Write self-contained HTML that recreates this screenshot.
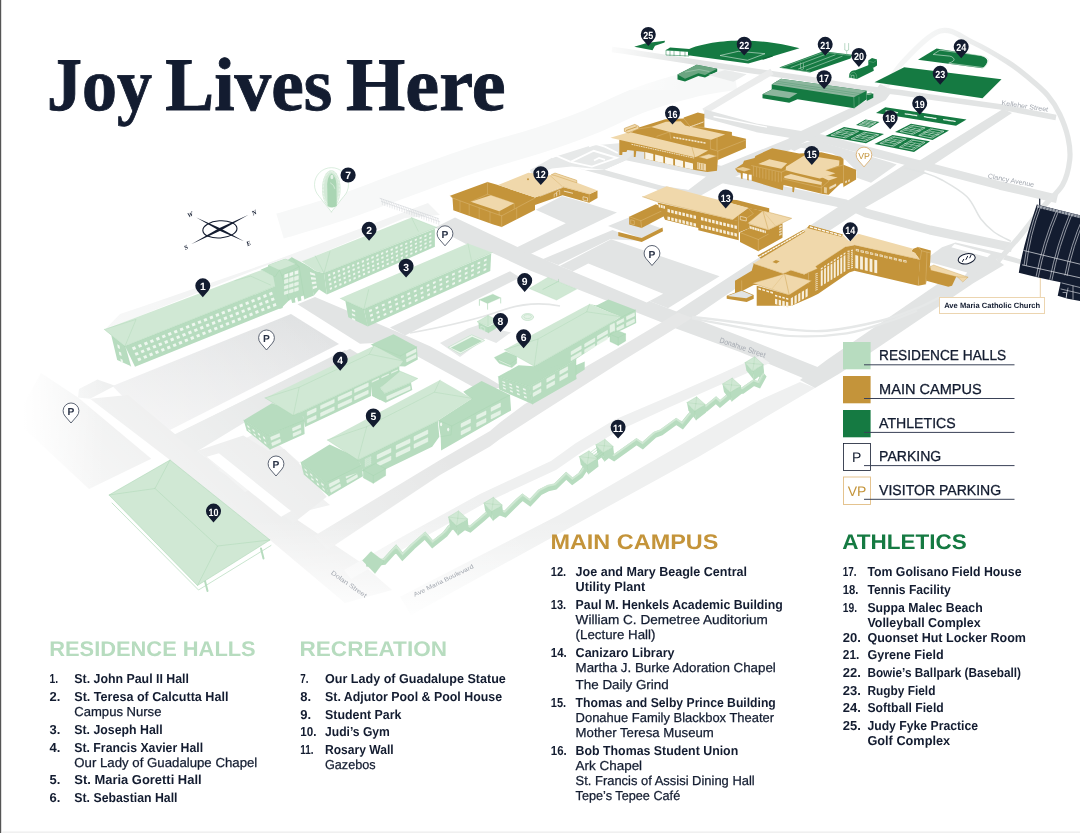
<!DOCTYPE html>
<html><head><meta charset="utf-8"><title>Campus Map</title>
<style>html,body{margin:0;padding:0;background:#fff;overflow:hidden}svg{display:block;will-change:transform}text{white-space:pre;text-rendering:geometricPrecision}</style>
</head><body>
<svg width="1080" height="833" viewBox="0 0 1080 833">
<rect width="1080" height="833" fill="#ffffff"/>
<defs>
<linearGradient id="fadeL" x1="0" y1="0" x2="1" y2="0"><stop offset="0" stop-color="#fff" stop-opacity="1"/><stop offset="1" stop-color="#fff" stop-opacity="0"/></linearGradient>
<linearGradient id="fadeB" x1="0" y1="1" x2="0" y2="0"><stop offset="0" stop-color="#fff" stop-opacity="1"/><stop offset="1" stop-color="#fff" stop-opacity="0"/></linearGradient>
<linearGradient id="fadeD" x1="0" y1="1" x2="1" y2="0"><stop offset="0" stop-color="#fff" stop-opacity="1"/><stop offset="1" stop-color="#fff" stop-opacity="0"/></linearGradient>
<linearGradient id="lotg" x1="0" y1="0" x2="0" y2="1"><stop offset="0" stop-color="#dfe1e2"/><stop offset="1" stop-color="#ececed"/></linearGradient>
</defs>
<g id="roads">
<path d="M280.0,226.0 C290.0,223.0 320.0,214.7 340.0,208.0 C360.0,201.3 378.3,193.8 400.0,186.0 C421.7,178.2 446.7,168.7 470.0,161.0 C493.3,153.3 520.0,146.5 540.0,140.0 C560.0,133.5 573.3,128.7 590.0,122.0 C606.7,115.3 623.3,106.2 640.0,100.0 C656.7,93.8 674.2,88.8 690.0,85.0 C705.8,81.2 727.5,78.3 735.0,77.0" fill="none" stroke="#f7f8f8" stroke-width="26" stroke-linejoin="round"/>
<polygon points="120.0,314.0 141.7,306.7 268.0,263.0 361.7,228.0 428.0,203.0 440.0,215.0 405.0,218.0 301.0,262.0 270.0,264.0 104.5,330.0" fill="#f3f4f4"/>
<polygon points="41.0,373.0 78.0,397.5 151.3,458.8 89.0,489.0 15.0,420.0" fill="#e4e5e5"/>
<polygon points="79.0,389.0 97.5,379.5 115.0,385.7 90.0,398.8 78.0,397.5" fill="#e2e4e4"/>
<polygon points="112.5,386.0 291.0,314.0 339.0,344.0 170.0,430.0 128.0,402.0" fill="url(#lotg)"/>
<polygon points="90.0,398.8 128.0,395.0 170.0,430.0 185.0,442.0 207.0,458.0 290.0,515.0 360.0,562.0 392.0,590.0 345.0,603.0 270.0,540.0 170.0,460.0" fill="#e4e5e5"/>
<polygon points="174.0,435.0 345.0,350.0 352.0,357.0 196.0,452.0" fill="#e2e4e4"/>
<polygon points="207.0,458.0 262.0,430.0 300.0,463.0 245.0,492.0" fill="#ebecec"/>
<polygon points="218.0,470.0 262.0,448.0 330.0,505.0 290.0,515.0" fill="#ebecec"/>
<polygon points="196.7,451.1 243.3,435.6 268.9,451.1 284.4,448.9 300.0,464.4 326.7,496.7 293.3,523.3 207.0,458.0" fill="#e6e7e7"/>
<polygon points="206.7,456.7 218.9,453.3 291.1,511.1 281.1,516.7" fill="#ffffff"/>
<polygon points="297.5,304.2 315.0,297.0 400.0,333.0 430.0,346.2 487.5,377.5 505.0,388.0 475.0,388.0 415.0,355.0 385.0,342.5 360.0,343.8" fill="#e2e4e4"/>
<polygon points="174.0,434.8 350.0,348.8 360.0,355.0 185.0,442.0" fill="#e2e4e4"/>
<polygon points="390.0,327.5 510.0,271.2 520.0,277.5 405.0,335.5" fill="#e2e4e4"/>
<polygon points="455.0,217.5 530.0,253.0 559.6,265.9 668.0,308.3 740.0,336.0 810.0,364.0 830.0,372.0 810.0,381.0 740.0,352.0 673.9,327.8 658.3,321.0 586.4,292.8 530.0,270.4 492.5,253.0 466.0,244.0 435.0,227.5" fill="#e2e4e4"/>
<polygon points="559.6,265.9 611.0,239.3 719.6,276.2 668.0,308.3" fill="#e2e4e4"/>
<polygon points="572.8,271.4 588.3,263.6 663.2,293.7 646.7,302.5" fill="#ffffff"/>
<polygon points="535.8,209.7 562.0,196.0 586.7,203.0 617.0,212.5 530.0,254.2 515.0,248.3 565.8,223.3" fill="#e2e4e4"/>
<polygon points="542.5,259.2 612.5,230.0 640.8,240.8 610.0,239.2 558.3,265.0 551.7,262.5" fill="#e2e4e4"/>
<polygon points="440.0,343.0 467.9,328.5 478.4,325.1 511.0,332.4 496.2,343.0 485.1,338.6 460.0,357.0" fill="#e6e8e8"/>
<path d="M410,333 Q470,322 500,311 T560,306" fill="none" stroke="#e4e6e6" stroke-width="1.6" stroke-linejoin="round"/>
<polygon points="313.8,536.2 440.0,460.0 490.0,431.0 500.0,422.5 524.5,404.3 540.7,394.7 581.5,369.3 622.2,345.8 663.0,321.4 700.0,299.0 700.0,313.0 663.0,336.0 622.2,361.0 581.5,387.0 540.7,413.0 500.0,439.0 490.0,446.5 440.0,475.0 327.5,550.0" fill="#e6e7e7"/>
<polygon points="760.0,356.0 720.0,373.9 670.0,396.0 614.4,419.7 575.6,443.3 551.0,461.0 480.0,494.0 400.0,538.0 344.0,570.0 351.0,579.0 405.0,548.0 485.0,503.0 556.0,470.0 582.0,452.0 620.0,430.0 670.0,407.0 720.0,385.0 770.0,363.0" fill="#eff0f0"/>
<polygon points="400.0,596.7 559.0,515.0 700.0,433.7 760.0,400.0 800.0,382.0 815.0,388.0 700.0,456.0 411.0,615.0" fill="#eff0f0"/>
<polyline points="612.0,49.5 625.0,51.3 750.0,70.5 805.0,78.5 857.0,87.5 900.0,92.5 930.0,97.0 1000.0,106.8 1056.0,117.5" fill="none" stroke="#e2e4e4" stroke-width="5.6" stroke-linejoin="round"/>
<polyline points="772.0,71.5 740.0,90.0 704.0,111.5" fill="none" stroke="#ebecec" stroke-width="6.5" stroke-linejoin="round"/>
<polyline points="704.0,113.5 757.0,128.0 823.0,139.0 912.0,162.5 1000.0,185.5 1057.0,198.8" fill="none" stroke="#e2e4e4" stroke-width="8.5" stroke-linejoin="round"/>
<polyline points="713.5,116.5 767,127.2" fill="none" stroke="#fff" stroke-width="1.3"/>
<polyline points="722.0,178.5 779.0,190.0 845.6,204.0 866.0,213.0 930.0,230.0 1000.0,244.8 1012.0,247.5" fill="none" stroke="#e2e4e4" stroke-width="9" stroke-linejoin="round"/>
<polygon points="598.0,166.0 615.0,156.0 640.0,146.0 730.0,168.0 726.7,184.0 712.5,178.0 625.8,160.3 604.2,169.7" fill="#e2e4e4"/>
<polygon points="585.2,170.0 604.2,169.7 661.7,185.8 688.3,190.0 690.0,193.0 660.0,191.5 656.5,189.6 571.5,166.5" fill="#e2e4e4"/>
<polygon points="608.0,226.0 642.0,238.5 663.0,229.0 630.0,217.0" fill="#e2e4e4"/>
<polygon points="880.0,84.0 867.8,100.0 796.7,133.0 787.8,139.0 719.0,166.7 688.3,190.0 665.0,187.5 657.0,190.5 700.0,196.0 726.7,181.0 794.4,147.8 814.4,136.7 885.6,100.0 893.0,90.0" fill="#e2e4e4"/>
<polygon points="1003.0,109.0 914.0,164.0 912.0,160.0 845.6,202.0 814.0,223.0 752.5,261.8 690.0,302.6 676.0,311.8 692.5,318.0 760.0,272.0 832.0,229.0 861.0,210.0 925.6,173.0 924.0,171.0 1012.0,113.0" fill="#e2e4e4"/>
<polygon points="787.8,147.8 814.4,140.0 890.0,162.2 896.7,164.4 871.0,182.7 856.7,177.8 856.7,171.0 845.6,160.0 832.0,153.3 801.0,147.8 794.4,151.0" fill="#e2e4e4"/>
<defs><linearGradient id="ringg" gradientUnits="userSpaceOnUse" x1="930" y1="40" x2="1010" y2="70"><stop offset="0" stop-color="#f4f5f5"/><stop offset="1" stop-color="#e3e5e5"/></linearGradient></defs>
<path d="M886.0,87.0 C888.8,82.8 894.0,71.3 903.0,62.0 C912.0,52.7 928.5,34.3 940.0,31.0 C951.5,27.7 960.7,36.8 972.0,42.0 C983.3,47.2 998.3,56.1 1007.6,62.0 C1016.9,67.8 1021.0,71.5 1027.7,77.1 C1034.4,82.7 1042.6,89.4 1047.9,95.6 C1053.2,101.8 1056.4,107.1 1059.7,114.1 C1063.0,121.1 1066.3,129.9 1068.0,137.6 C1069.7,145.2 1070.6,152.1 1069.7,160.0 C1068.8,167.9 1067.0,177.1 1062.5,185.0 C1058.0,192.9 1049.6,199.0 1042.5,207.5 C1035.4,216.0 1027.4,227.1 1020.0,236.0 C1012.6,244.9 1001.7,256.8 998.0,261.0" fill="none" stroke="url(#ringg)" stroke-width="5.2" stroke-linejoin="round"/>
<polygon points="993.0,257.0 1004.0,265.0 973.3,283.3 840.0,373.3 815.0,388.0 800.0,380.0 826.7,360.0 953.3,273.3" fill="#e2e4e4"/>
<polygon points="926.0,259.0 942.0,247.2 955.5,242.5 1003.0,253.5 992.0,263.0 966.0,279.0 925.0,268.0" fill="#e2e4e4"/>
<polygon points="954.6,243.9 990.8,254.0 987.4,257.3 951.3,247.2" fill="#ffffff"/>
<polygon points="931.0,262.4 967.2,272.4 964.7,275.8 928.6,264.9" fill="#ffffff"/>
<polygon points="1006.0,255.0 1021.0,259.5 1020.0,264.0 1003.0,259.5" fill="#e2e4e4"/>
<path d="M692.0,317.0 C700.0,317.9 723.7,320.6 740.0,322.7 C756.3,324.8 775.5,328.2 790.0,329.5 C804.5,330.8 811.7,332.1 826.7,330.7 C841.7,329.3 865.0,324.7 880.0,321.0 C895.0,317.3 907.0,312.3 917.0,308.3 C927.0,304.3 936.2,298.9 940.0,297.0" fill="none" stroke="#e6e8e8" stroke-width="2.4" stroke-linejoin="round"/>
<path d="M692.0,318.5 C700.0,320.0 723.7,324.4 740.0,327.3 C756.3,330.2 772.2,335.0 790.0,336.0 C807.8,337.0 830.0,335.8 846.7,333.3 C863.4,330.8 878.3,324.8 890.0,321.0 C901.7,317.2 912.5,312.4 917.0,310.7" fill="none" stroke="#e6e8e8" stroke-width="2.2" stroke-linejoin="round"/>
<path d="M905.0,168.0 C908.3,168.8 918.8,171.0 925.0,173.0 C931.2,175.0 935.0,176.0 942.0,180.0 C949.0,184.0 960.5,190.4 967.0,196.8 C973.5,203.2 976.2,212.8 980.7,218.7 C985.2,224.6 989.0,228.2 994.0,232.0 C999.0,235.8 1008.2,239.8 1011.0,241.3" fill="none" stroke="#e0e3e3" stroke-width="1.5" stroke-linejoin="round"/>
<polygon points="530.0,170.0 552.0,157.8 590.0,145.7 622.0,143.0 640.0,148.0 625.8,160.3 604.2,169.7 571.5,166.5 552.0,168.5 532.0,176.0" fill="#e7e9e9"/>
<polyline points="552.0,157.3 556.2,155.7 570.6,161.8" fill="none" stroke="#fff" stroke-width="1.8" stroke-linejoin="miter"/>
<polyline points="570.6,161.9 593.7,150.8 616.9,157.8 591.9,166.6 570.6,161.9" fill="none" stroke="#fff" stroke-width="1.8" stroke-linejoin="miter"/>
<polyline points="589.0,146.5 595.6,144.0 604.8,146.7 617.8,153.0" fill="none" stroke="#fff" stroke-width="1.8" stroke-linejoin="miter"/>
<polyline points="594.0,160.5 599.0,158.0 605.0,159.8" fill="none" stroke="#fff" stroke-width="1.8" stroke-linejoin="miter"/>
<defs>
<linearGradient id="fadeDiag" gradientUnits="userSpaceOnUse" x1="330" y1="335" x2="30" y2="635"><stop offset="0" stop-color="#fff" stop-opacity="0"/><stop offset="1" stop-color="#fff" stop-opacity="1"/></linearGradient>
<linearGradient id="fadeBot" gradientUnits="userSpaceOnUse" x1="0" y1="520" x2="0" y2="625"><stop offset="0" stop-color="#fff" stop-opacity="0"/><stop offset="1" stop-color="#fff" stop-opacity="1"/></linearGradient>
<linearGradient id="fadeTL" gradientUnits="userSpaceOnUse" x1="690" y1="60" x2="600" y2="40"><stop offset="0" stop-color="#fff" stop-opacity="0"/><stop offset="1" stop-color="#fff" stop-opacity="1"/></linearGradient>
</defs>
<rect x="0" y="300" width="620" height="340" fill="url(#fadeDiag)"/>
<defs><linearGradient id="fadeLeft" gradientUnits="userSpaceOnUse" x1="22" y1="0" x2="105" y2="0"><stop offset="0" stop-color="#fff" stop-opacity="1"/><stop offset="1" stop-color="#fff" stop-opacity="0"/></linearGradient></defs>
<rect x="0" y="340" width="110" height="200" fill="url(#fadeLeft)"/>
<rect x="0" y="500" width="820" height="140" fill="url(#fadeBot)"/>
<rect x="560" y="30" width="140" height="60" fill="url(#fadeTL)"/>
</g>
<text x="1001.3" y="104.8" font-family="Liberation Sans, sans-serif" font-size="6.8" fill="#a3a8b0" textLength="47" lengthAdjust="spacingAndGlyphs" transform="rotate(8.5 1001.3 104.8)">Kelleher Street</text>
<text x="987.5" y="178" font-family="Liberation Sans, sans-serif" font-size="6.8" fill="#a3a8b0" textLength="47" lengthAdjust="spacingAndGlyphs" transform="rotate(11 987.5 178)">Clancy Avenue</text>
<text x="719" y="342.3" font-family="Liberation Sans, sans-serif" font-size="7.6" fill="#a3a8b0" textLength="48" lengthAdjust="spacingAndGlyphs" transform="rotate(18.8 719 342.3)">Donahue Street</text>
<text x="330.5" y="573.8" font-family="Liberation Sans, sans-serif" font-size="6.4" fill="#a3a8b0" textLength="42" lengthAdjust="spacingAndGlyphs" transform="rotate(35 330.5 573.8)">Dolan Street</text>
<text x="414.8" y="596.8" font-family="Liberation Sans, sans-serif" font-size="6.2" fill="#a3a8b0" textLength="66" lengthAdjust="spacingAndGlyphs" transform="rotate(-26 414.8 596.8)">Ave Maria Boulevard</text>
<path d="M1036.8,204.4 L1081,215.5 L1081,301 L1080,300.9 L1067.8,298.7 L1057.7,295.8 L1060.6,282.2 L1049.8,280 L1036,277 L1018.8,272.8 Q1022.5,247 1036.8,204.4 Z" fill="#131c30"/>
<path d="M1039.7,199 V205" fill="none" stroke="#131c30" stroke-width="1.2" stroke-linejoin="round" stroke-linecap="round"/>
<path d="M1038.5,205.6 Q1027.8,234.25 1024.1,264.9" fill="none" stroke="#e8eaee" stroke-width="0.6" stroke-linejoin="round" stroke-linecap="round"/>
<path d="M1040.7,206.2 Q1030.0,234.85 1026.3,265.5" fill="none" stroke="#e8eaee" stroke-width="0.6" stroke-linejoin="round" stroke-linecap="round"/>
<path d="M1056.2,210.9 Q1042.65,242.64999999999998 1036.1,276.4" fill="none" stroke="#e8eaee" stroke-width="0.6" stroke-linejoin="round" stroke-linecap="round"/>
<path d="M1058.4,211.5 Q1044.8500000000001,243.24999999999997 1038.3,277.0" fill="none" stroke="#e8eaee" stroke-width="0.6" stroke-linejoin="round" stroke-linecap="round"/>
<path d="M1069.9,213.5 Q1056.35,245.4 1049.8,279.3" fill="none" stroke="#e8eaee" stroke-width="0.6" stroke-linejoin="round" stroke-linecap="round"/>
<path d="M1072.1000000000001,214.1 Q1058.55,246.0 1052.0,279.90000000000003" fill="none" stroke="#e8eaee" stroke-width="0.6" stroke-linejoin="round" stroke-linecap="round"/>
<path d="M1083,217.4 Q1070.45,245.2 1064.9,275" fill="none" stroke="#e8eaee" stroke-width="0.6" stroke-linejoin="round" stroke-linecap="round"/>
<path d="M1085.2,218.0 Q1072.65,245.79999999999998 1067.1000000000001,275.6" fill="none" stroke="#e8eaee" stroke-width="0.6" stroke-linejoin="round" stroke-linecap="round"/>
<path d="M1023.8,250.5 L1081,264.4" fill="none" stroke="#e8eaee" stroke-width="0.7" stroke-linejoin="round" stroke-linecap="round"/>
<path d="M1022.4,264.9 L1081,278" fill="none" stroke="#e8eaee" stroke-width="0.7" stroke-linejoin="round" stroke-linecap="round"/>
<polygon points="1037.6,205.0 1081.0,215.8 1081.0,218.6 1036.8,207.6" fill="#b9bdc6" opacity="0.85"/>
<path d="M1040.0,205.8 l-0.6,2.4" fill="none" stroke="#131c30" stroke-width="0.5" stroke-linejoin="round" stroke-linecap="round"/>
<path d="M1043.1,206.6 l-0.6,2.4" fill="none" stroke="#131c30" stroke-width="0.5" stroke-linejoin="round" stroke-linecap="round"/>
<path d="M1046.2,207.3 l-0.6,2.4" fill="none" stroke="#131c30" stroke-width="0.5" stroke-linejoin="round" stroke-linecap="round"/>
<path d="M1049.3,208.1 l-0.6,2.4" fill="none" stroke="#131c30" stroke-width="0.5" stroke-linejoin="round" stroke-linecap="round"/>
<path d="M1052.4,208.9 l-0.6,2.4" fill="none" stroke="#131c30" stroke-width="0.5" stroke-linejoin="round" stroke-linecap="round"/>
<path d="M1055.5,209.7 l-0.6,2.4" fill="none" stroke="#131c30" stroke-width="0.5" stroke-linejoin="round" stroke-linecap="round"/>
<path d="M1058.6,210.4 l-0.6,2.4" fill="none" stroke="#131c30" stroke-width="0.5" stroke-linejoin="round" stroke-linecap="round"/>
<path d="M1061.7,211.2 l-0.6,2.4" fill="none" stroke="#131c30" stroke-width="0.5" stroke-linejoin="round" stroke-linecap="round"/>
<path d="M1064.8,212.0 l-0.6,2.4" fill="none" stroke="#131c30" stroke-width="0.5" stroke-linejoin="round" stroke-linecap="round"/>
<path d="M1067.9,212.7 l-0.6,2.4" fill="none" stroke="#131c30" stroke-width="0.5" stroke-linejoin="round" stroke-linecap="round"/>
<path d="M1071.0,213.5 l-0.6,2.4" fill="none" stroke="#131c30" stroke-width="0.5" stroke-linejoin="round" stroke-linecap="round"/>
<path d="M1074.1,214.3 l-0.6,2.4" fill="none" stroke="#131c30" stroke-width="0.5" stroke-linejoin="round" stroke-linecap="round"/>
<path d="M1077.2,215.0 l-0.6,2.4" fill="none" stroke="#131c30" stroke-width="0.5" stroke-linejoin="round" stroke-linecap="round"/>
<path d="M1080.3,215.8 l-0.6,2.4" fill="none" stroke="#131c30" stroke-width="0.5" stroke-linejoin="round" stroke-linecap="round"/>
<path d="M1062,283 L1080,287.5 M1061,289 L1080,293.5 M1068,288 L1066,298 M1073,286 V299" fill="none" stroke="#e8eaee" stroke-width="0.6" stroke-linejoin="round" stroke-linecap="round"/>
<path d="M1063,292.5 h3.5 v4.5" fill="none" stroke="#e8eaee" stroke-width="0.6" stroke-linejoin="round" stroke-linecap="round"/>
<polygon points="634.2,46.7 646.7,43.0 665.0,40.8 664.5,42.6 655.0,45.8 652.5,50.2" fill="#157a42"/>
<polygon points="666.0,50.0 689.0,51.5 689.0,56.0 666.0,55.0" fill="#fff" stroke="#157a42" stroke-width="0.5" stroke-linejoin="round"/>
<polygon points="665.8,50.3 670.0,47.6 689.5,49.0 689.5,51.8" fill="#157a42"/>
<path d="M670,51 V55.3 M674,51.2 V55.5 M680,51.5 V55.7 M685,51.8 V56" fill="none" stroke="#157a42" stroke-width="0.5" stroke-linejoin="round" stroke-linecap="round"/>
<path d="M688,55.3 L688,49.4 C700,43.6 725,40.2 745.2,40.5 C765,40.9 785,44 799.5,48.3 L748.3,63.6 Z" fill="#157a42"/>
<polygon points="720.0,55.5 738.3,51.3 765.0,53.7 747.5,60.3" fill="none" stroke="#d9eadf" stroke-width="0.6" stroke-linejoin="round"/>
<polygon points="761.5,58.5 771.5,55.3 773.0,56.5 763.0,59.8" fill="#0f6a38"/>
<polygon points="677.5,74.5 696.7,64.7 717.2,68.8 717.2,71.5 705.0,77.6 698.3,76.0 685.0,81.5 677.5,79.5" fill="#157a42"/>
<polygon points="677.5,74.5 696.7,64.7 717.2,68.8 705.0,75.0 698.3,73.3 685.0,78.7" fill="#6ba581"/>
<polyline points="685.5,72.0 699.0,69.5 709.0,71.5" fill="none" stroke="#cfe3d6" stroke-width="0.4" stroke-linecap="round" stroke-linejoin="round"/>
<polygon points="708.3,75.0 725.0,70.0 746.7,74.2 733.3,81.7" fill="#e9ebeb"/>
<polygon points="779.2,67.5 823.3,51.3 852.0,54.7 850.5,58.5 810.0,72.5" fill="#157a42"/>
<polyline points="790.9,67.5 828.2,53.4" fill="none" stroke="#d9eadf" stroke-width="0.5" stroke-linecap="round" stroke-linejoin="round"/>
<polyline points="798.6,68.8 835.1,54.9" fill="none" stroke="#d9eadf" stroke-width="0.5" stroke-linecap="round" stroke-linejoin="round"/>
<polyline points="806.3,70.0 842.1,56.3" fill="none" stroke="#d9eadf" stroke-width="0.5" stroke-linecap="round" stroke-linejoin="round"/>
<polyline points="781.5,67.6 824.0,52.2 850.5,55.5" fill="none" stroke="#9cc9ad" stroke-width="0.5" stroke-linecap="round" stroke-linejoin="round"/>
<polyline points="782.0,68.3 810.0,72.0" fill="none" stroke="#9cc9ad" stroke-width="0.5" stroke-linecap="round" stroke-linejoin="round"/>
<path d="M844.8,43.5 V50 Q846.7,51.5 848.6,50 V43.5 M846.7,51 V54" fill="none" stroke="#9cc9ad" stroke-width="0.7" stroke-linejoin="round" stroke-linecap="round"/>
<path d="M800.5,63 V69 Q802,70 803.5,69 V63.5" fill="none" stroke="#9cc9ad" stroke-width="0.6" stroke-linejoin="round" stroke-linecap="round"/>
<path d="M848.8,77.6 L849.5,73.5 Q851.5,70 855.5,70.3 L869.5,64.8 Q873.5,66 873.8,70.8 L857,78.9 Z" fill="#157a42"/>
<path d="M849.5,77.7 Q850,72.5 853.5,72.3 Q857,72.8 856.8,78.8" fill="none" stroke="#7fb896" stroke-width="0.5" stroke-linejoin="round" stroke-linecap="round"/>
<path d="M851.3,77.9 v-2.6 h2.7 v3" fill="none" stroke="#d9eadf" stroke-width="0.5" stroke-linejoin="round" stroke-linecap="round"/>
<polygon points="868.3,60.5 872.0,58.0 877.0,59.5 877.0,65.5 873.5,67.8 868.3,66.0" fill="#157a42"/>
<polyline points="869.5,61.5 873.5,62.5 876.5,60.5" fill="none" stroke="#7fb896" stroke-width="0.4" stroke-linecap="round" stroke-linejoin="round"/>
<polygon points="771.7,84.5 781.0,78.7 866.7,90.8 866.7,99.2 854.2,108.3 797.5,99.2 789.2,102.8 762.5,98.3 762.5,94.2 771.7,89.6" fill="#157a42"/>
<polygon points="771.7,84.5 781.0,78.7 866.7,90.8 853.8,97.3" fill="#8cb69d"/>
<polyline points="774.5,82.8 857.7,95.3" fill="none" stroke="#157a42" stroke-width="0.5" stroke-linecap="round" stroke-linejoin="round" opacity="0.45"/>
<polyline points="776.8,81.3 860.9,93.7" fill="none" stroke="#157a42" stroke-width="0.5" stroke-linecap="round" stroke-linejoin="round" opacity="0.45"/>
<polygon points="762.5,94.2 772.5,89.2 797.5,93.3 789.2,98.3" fill="#8cb69d"/>
<polyline points="853.8,97.3 854.2,108.3" fill="none" stroke="#7fb896" stroke-width="0.5" stroke-linecap="round" stroke-linejoin="round"/>
<polyline points="859.0,97.0 859.0,104.8" fill="none" stroke="#7fb896" stroke-width="0.4" stroke-linecap="round" stroke-linejoin="round"/>
<polygon points="866.7,95.0 873.3,93.7 873.3,97.7 866.7,101.0" fill="#157a42"/>
<polygon points="866.7,95.0 873.3,93.7 871.0,92.6 866.7,93.4" fill="#6ba581"/>
<polygon points="874.5,82.2 904.2,67.3 1001.5,79.3 982.5,98.3" fill="#157a42"/>
<path d="M918,59.7 L936.5,48.6 L981,55.8 Q993,59.5 982.5,68.3 Z" fill="#157a42"/>
<path d="M940.3,50.2 L980.7,55.5 Q990,57.7 988.2,61.2 Q987,66 984,67.7 L948.7,63.2 Q955.5,61 953.8,58.5 Q952,56.2 949.6,56.1 L933.6,54.5 Z" fill="none" stroke="#d9eadf" stroke-width="0.6" stroke-linejoin="round" stroke-linecap="round"/>
<polygon points="876.0,113.0 885.3,107.3 966.5,119.5 956.0,125.7" fill="#157a42"/>
<polyline points="886.0,110.9 897.5,112.7" fill="none" stroke="#e4f0e8" stroke-width="1.3" stroke-linecap="round" stroke-linejoin="round" stroke-dasharray="1.5,0.7"/>
<polyline points="905.2,113.8 916.7,115.6" fill="none" stroke="#e4f0e8" stroke-width="1.3" stroke-linecap="round" stroke-linejoin="round" stroke-dasharray="1.5,0.7"/>
<polyline points="924.4,116.7 935.9,118.5" fill="none" stroke="#e4f0e8" stroke-width="1.3" stroke-linecap="round" stroke-linejoin="round" stroke-dasharray="1.5,0.7"/>
<polyline points="943.6,119.6 955.1,121.4" fill="none" stroke="#e4f0e8" stroke-width="1.3" stroke-linecap="round" stroke-linejoin="round" stroke-dasharray="1.5,0.7"/>
<polygon points="856.0,125.0 865.5,119.5 879.5,122.0 870.0,127.7" fill="#157a42"/>
<polygon points="859.3,124.6 866.1,120.6 876.2,122.4 869.4,126.5" fill="none" stroke="#e4f0e8" stroke-width="0.6" stroke-linejoin="round"/>
<polyline points="860.7,124.9 867.5,120.9" fill="none" stroke="#e4f0e8" stroke-width="0.45" stroke-linecap="round" stroke-linejoin="round"/>
<polyline points="868.0,126.3 874.8,122.2" fill="none" stroke="#e4f0e8" stroke-width="0.45" stroke-linecap="round" stroke-linejoin="round"/>
<polyline points="862.5,123.8 869.8,125.2" fill="none" stroke="#e4f0e8" stroke-width="0.45" stroke-linecap="round" stroke-linejoin="round"/>
<polyline points="865.7,122.0 873.0,123.3" fill="none" stroke="#e4f0e8" stroke-width="0.45" stroke-linecap="round" stroke-linejoin="round"/>
<polyline points="866.2,124.5 869.3,122.6" fill="none" stroke="#e4f0e8" stroke-width="0.45" stroke-linecap="round" stroke-linejoin="round"/>
<polyline points="862.4,122.6 873.1,124.5" fill="none" stroke="#e4f0e8" stroke-width="0.5" stroke-linecap="round" stroke-linejoin="round"/>
<polygon points="825.5,136.0 844.0,127.0 884.0,134.0 866.0,143.2" fill="#157a42"/>
<polygon points="830.9,135.2 844.2,128.8 858.6,131.3 845.5,137.8" fill="none" stroke="#e4f0e8" stroke-width="0.6" stroke-linejoin="round"/>
<polyline points="833.0,135.6 846.2,129.1" fill="none" stroke="#e4f0e8" stroke-width="0.45" stroke-linecap="round" stroke-linejoin="round"/>
<polyline points="843.4,137.5 856.6,130.9" fill="none" stroke="#e4f0e8" stroke-width="0.45" stroke-linecap="round" stroke-linejoin="round"/>
<polyline points="836.5,133.8 847.0,135.7" fill="none" stroke="#e4f0e8" stroke-width="0.45" stroke-linecap="round" stroke-linejoin="round"/>
<polyline points="842.6,130.9 853.1,132.7" fill="none" stroke="#e4f0e8" stroke-width="0.45" stroke-linecap="round" stroke-linejoin="round"/>
<polyline points="841.8,134.8 847.9,131.8" fill="none" stroke="#e4f0e8" stroke-width="0.45" stroke-linecap="round" stroke-linejoin="round"/>
<polyline points="836.8,131.9 852.9,134.7" fill="none" stroke="#e4f0e8" stroke-width="0.5" stroke-linecap="round" stroke-linejoin="round"/>
<polygon points="851.1,138.8 864.2,132.3 878.7,134.8 865.7,141.4" fill="none" stroke="#e4f0e8" stroke-width="0.6" stroke-linejoin="round"/>
<polyline points="853.2,139.2 866.3,132.6" fill="none" stroke="#e4f0e8" stroke-width="0.45" stroke-linecap="round" stroke-linejoin="round"/>
<polyline points="863.7,141.0 876.7,134.4" fill="none" stroke="#e4f0e8" stroke-width="0.45" stroke-linecap="round" stroke-linejoin="round"/>
<polyline points="856.7,137.4 867.2,139.3" fill="none" stroke="#e4f0e8" stroke-width="0.45" stroke-linecap="round" stroke-linejoin="round"/>
<polyline points="862.7,134.4 873.1,136.2" fill="none" stroke="#e4f0e8" stroke-width="0.45" stroke-linecap="round" stroke-linejoin="round"/>
<polyline points="861.9,138.3 867.9,135.3" fill="none" stroke="#e4f0e8" stroke-width="0.45" stroke-linecap="round" stroke-linejoin="round"/>
<polyline points="856.9,135.4 873.0,138.2" fill="none" stroke="#e4f0e8" stroke-width="0.5" stroke-linecap="round" stroke-linejoin="round"/>
<polygon points="895.0,132.0 911.0,123.8 949.0,130.5 932.5,140.0" fill="#157a42"/>
<polygon points="899.9,131.4 911.4,125.4 925.1,127.9 913.4,134.2" fill="none" stroke="#e4f0e8" stroke-width="0.6" stroke-linejoin="round"/>
<polyline points="901.8,131.8 913.3,125.8" fill="none" stroke="#e4f0e8" stroke-width="0.45" stroke-linecap="round" stroke-linejoin="round"/>
<polyline points="911.5,133.8 923.2,127.6" fill="none" stroke="#e4f0e8" stroke-width="0.45" stroke-linecap="round" stroke-linejoin="round"/>
<polyline points="904.9,130.2 914.6,132.1" fill="none" stroke="#e4f0e8" stroke-width="0.45" stroke-linecap="round" stroke-linejoin="round"/>
<polyline points="910.2,127.4 920.0,129.3" fill="none" stroke="#e4f0e8" stroke-width="0.45" stroke-linecap="round" stroke-linejoin="round"/>
<polyline points="909.8,131.1 915.1,128.3" fill="none" stroke="#e4f0e8" stroke-width="0.45" stroke-linecap="round" stroke-linejoin="round"/>
<polyline points="904.9,128.3 920.0,131.2" fill="none" stroke="#e4f0e8" stroke-width="0.5" stroke-linecap="round" stroke-linejoin="round"/>
<polygon points="918.7,135.3 930.4,128.9 944.0,131.3 932.2,138.1" fill="none" stroke="#e4f0e8" stroke-width="0.6" stroke-linejoin="round"/>
<polyline points="920.5,135.7 932.3,129.2" fill="none" stroke="#e4f0e8" stroke-width="0.45" stroke-linecap="round" stroke-linejoin="round"/>
<polyline points="930.3,137.7 942.1,131.0" fill="none" stroke="#e4f0e8" stroke-width="0.45" stroke-linecap="round" stroke-linejoin="round"/>
<polyline points="923.7,134.0 933.5,135.9" fill="none" stroke="#e4f0e8" stroke-width="0.45" stroke-linecap="round" stroke-linejoin="round"/>
<polyline points="929.1,131.0 938.9,132.8" fill="none" stroke="#e4f0e8" stroke-width="0.45" stroke-linecap="round" stroke-linejoin="round"/>
<polyline points="928.6,134.9 934.0,131.9" fill="none" stroke="#e4f0e8" stroke-width="0.45" stroke-linecap="round" stroke-linejoin="round"/>
<polyline points="923.8,131.9 938.9,134.9" fill="none" stroke="#e4f0e8" stroke-width="0.5" stroke-linecap="round" stroke-linejoin="round"/>
<polygon points="874.5,144.0 892.5,135.0 930.0,141.2 914.0,152.0" fill="#157a42"/>
<polygon points="879.8,143.3 892.6,136.7 906.2,139.0 893.9,146.1" fill="none" stroke="#e4f0e8" stroke-width="0.6" stroke-linejoin="round"/>
<polyline points="881.7,143.7 894.5,137.0" fill="none" stroke="#e4f0e8" stroke-width="0.45" stroke-linecap="round" stroke-linejoin="round"/>
<polyline points="891.9,145.7 904.3,138.7" fill="none" stroke="#e4f0e8" stroke-width="0.45" stroke-linecap="round" stroke-linejoin="round"/>
<polyline points="885.2,141.9 895.3,143.8" fill="none" stroke="#e4f0e8" stroke-width="0.45" stroke-linecap="round" stroke-linejoin="round"/>
<polyline points="891.1,138.8 901.0,140.6" fill="none" stroke="#e4f0e8" stroke-width="0.45" stroke-linecap="round" stroke-linejoin="round"/>
<polyline points="890.2,142.8 896.0,139.7" fill="none" stroke="#e4f0e8" stroke-width="0.45" stroke-linecap="round" stroke-linejoin="round"/>
<polyline points="885.4,139.9 900.8,142.7" fill="none" stroke="#e4f0e8" stroke-width="0.5" stroke-linecap="round" stroke-linejoin="round"/>
<polygon points="899.4,147.2 911.5,139.9 925.1,142.3 913.5,149.9" fill="none" stroke="#e4f0e8" stroke-width="0.6" stroke-linejoin="round"/>
<polyline points="901.4,147.5 913.4,140.3" fill="none" stroke="#e4f0e8" stroke-width="0.45" stroke-linecap="round" stroke-linejoin="round"/>
<polyline points="911.5,149.6 923.2,141.9" fill="none" stroke="#e4f0e8" stroke-width="0.45" stroke-linecap="round" stroke-linejoin="round"/>
<polyline points="904.6,145.6 914.7,147.5" fill="none" stroke="#e4f0e8" stroke-width="0.45" stroke-linecap="round" stroke-linejoin="round"/>
<polyline points="910.2,142.2 920.1,144.0" fill="none" stroke="#e4f0e8" stroke-width="0.45" stroke-linecap="round" stroke-linejoin="round"/>
<polyline points="909.6,146.5 915.1,143.1" fill="none" stroke="#e4f0e8" stroke-width="0.45" stroke-linecap="round" stroke-linejoin="round"/>
<polyline points="904.7,143.4 920.1,146.2" fill="none" stroke="#e4f0e8" stroke-width="0.5" stroke-linecap="round" stroke-linejoin="round"/>
<polygon points="619.3,139.7 638.8,127.4 665.2,119.3 683.7,118.5 683.7,117.5 697.8,112.6 704.4,114.1 704.4,127.4 731.9,131.9 731.9,135.6 745.9,138.8 745.9,148.1 717.8,160.0 717.0,170.8 707.4,172.1 694.8,169.9 644.4,158.8 644.4,152.1 636.3,151.1 635.6,157.0 633.8,157.0 633.8,150.8 627.4,150.1 626.4,151.9 622.5,152.1 622.2,155.1 619.3,155.1" fill="#c4943a"/>
<polygon points="651.1,127.0 665.9,121.8 680.7,121.2 685.2,125.5 725.2,134.4 711.1,139.7 669.6,131.9" fill="#f0d8ab"/>
<polygon points="610.4,137.8 629.6,132.1 691.9,147.1 708.1,150.4 697.8,156.3 694.8,157.3" fill="#f0d8ab"/>
<polyline points="691.9,147.1 694.8,157.3" fill="none" stroke="#c4943a" stroke-width="0.4" stroke-linecap="round" stroke-linejoin="round"/>
<polygon points="624.4,128.4 634.8,124.4 638.8,126.4 638.8,128.9 628.1,132.9 624.4,131.4" fill="#f0d8ab" stroke="#c4943a" stroke-width="0.6" stroke-linejoin="round"/>
<polyline points="626.4,130.4 637.0,126.7" fill="none" stroke="#c4943a" stroke-width="0.8" stroke-linecap="round" stroke-linejoin="round" stroke-dasharray="1.2,0.7"/>
<polygon points="672.3,136.0 706.1,141.9 706.1,144.9 672.3,139.0" fill="#c4943a"/>
<polygon points="673.3,136.6 675.4,137.0 675.4,138.5 673.3,138.1" fill="#f6ead2"/>
<polygon points="676.3,137.1 678.4,137.5 678.4,139.0 676.3,138.7" fill="#f6ead2"/>
<polygon points="679.3,137.6 681.4,138.0 681.4,139.6 679.3,139.2" fill="#f6ead2"/>
<polygon points="682.4,138.2 684.4,138.5 684.4,140.1 682.4,139.7" fill="#f6ead2"/>
<polygon points="685.4,138.7 687.4,139.1 687.4,140.6 685.4,140.3" fill="#f6ead2"/>
<polygon points="688.4,139.2 690.4,139.6 690.4,141.1 688.4,140.8" fill="#f6ead2"/>
<polygon points="691.4,139.7 693.5,140.1 693.5,141.7 691.4,141.3" fill="#f6ead2"/>
<polygon points="694.4,140.3 696.5,140.6 696.5,142.2 694.4,141.8" fill="#f6ead2"/>
<polygon points="697.4,140.8 699.5,141.2 699.5,142.7 697.4,142.4" fill="#f6ead2"/>
<polygon points="700.4,141.3 702.5,141.7 702.5,143.3 700.4,142.9" fill="#f6ead2"/>
<polygon points="703.4,141.9 705.5,142.2 705.5,143.8 703.4,143.4" fill="#f6ead2"/>
<polygon points="645.2,152.1 653.3,154.1 653.3,160.8 645.2,159.0" fill="#fbf6ea"/>
<polygon points="655.1,154.5 663.3,156.4 663.3,163.0 655.1,161.2" fill="#fbf6ea"/>
<polygon points="665.0,156.8 673.2,158.7 673.2,165.2 665.0,163.4" fill="#fbf6ea"/>
<polygon points="675.0,159.1 683.1,161.1 683.1,167.4 675.0,165.6" fill="#fbf6ea"/>
<polygon points="684.9,161.5 693.0,163.4 693.0,169.6 684.9,167.8" fill="#fbf6ea"/>
<polygon points="697.0,162.2 705.9,164.0 705.9,170.8 697.0,169.0" fill="#efd9b0"/>
<path d="M698.1,163.4 v5 m2.5,-4.5 v5 m2.5,-4.5 v5" fill="none" stroke="#c4943a" stroke-width="0.7" stroke-linejoin="round" stroke-linecap="round"/>
<polyline points="631.9,144.4 694.8,158.2" fill="none" stroke="#f6ead2" stroke-width="0.9" stroke-linecap="round" stroke-linejoin="round" stroke-dasharray="0.9,1.5"/>
<polygon points="698.5,157.0 708.9,154.1 717.0,156.0 707.0,159.3" fill="#f0d8ab" stroke="#c4943a" stroke-width="0.4" stroke-linejoin="round"/>
<polyline points="704.4,127.4 690.4,126.7 683.7,118.5" fill="none" stroke="#e3c48c" stroke-width="0.4" stroke-linecap="round" stroke-linejoin="round"/>
<polyline points="690.4,126.7 703.7,121.9" fill="none" stroke="#f6ead2" stroke-width="0.9" stroke-linecap="round" stroke-linejoin="round" stroke-dasharray="1,0.8"/>
<polyline points="710.4,140.0 710.4,148.9 717.8,151.1 745.9,140.0" fill="none" stroke="#e3c48c" stroke-width="0.4" stroke-linecap="round" stroke-linejoin="round"/>
<polyline points="717.8,151.1 717.8,160.0" fill="none" stroke="#e3c48c" stroke-width="0.4" stroke-linecap="round" stroke-linejoin="round"/>
<polyline points="717.0,137.0 717.0,149.6" fill="none" stroke="#e3c48c" stroke-width="0.4" stroke-linecap="round" stroke-linejoin="round"/>
<polyline points="638.8,128.9 651.1,127.0" fill="none" stroke="#e3c48c" stroke-width="0.4" stroke-linecap="round" stroke-linejoin="round"/>
<polyline points="657.0,136.3 669.6,131.9 670.8,138.8" fill="none" stroke="#e3c48c" stroke-width="0.4" stroke-linecap="round" stroke-linejoin="round"/>
<polygon points="735.1,168.8 742.8,163.8 744.0,160.8 754.6,157.9 755.4,155.9 772.1,148.2 799.1,153.4 821.3,152.2 840.6,156.7 843.5,158.9 843.5,164.8 856.1,169.7 856.1,179.6 843.5,187.0 842.8,182.9 840.6,183.6 828.7,194.7 822.8,194.0 794.6,187.3 793.9,192.2 792.4,191.9 792.4,186.9 783.5,185.1 782.8,190.3 751.7,180.7 751.7,174.7 748.7,174.4 748.7,180.4 747.2,180.1 747.2,174.1 742.8,173.0 742.5,178.9 741.0,178.6 740.6,173.0 737.6,172.2" fill="#c4943a"/>
<polygon points="758.3,164.1 769.4,159.2 787.2,163.3 781.3,168.8" fill="#f0d8ab"/>
<polygon points="786.0,166.7 805.0,154.9 839.4,160.4 839.1,165.6 825.7,170.3 835.4,173.3 819.8,178.6 796.1,173.0 785.7,170.3" fill="#f0d8ab"/>
<polygon points="784.3,176.2 790.9,174.1 822.0,182.1 821.3,185.1 784.3,178.1" fill="#f0d8ab"/>
<polygon points="821.3,177.1 828.7,175.6 837.6,177.4 828.7,180.4" fill="#f0d8ab"/>
<polygon points="735.4,168.8 742.8,167.0 750.9,169.3 744.3,171.5" fill="#f0d8ab" opacity="0.8"/>
<polyline points="753.4,166.7 753.4,175.9" fill="none" stroke="#e3c48c" stroke-width="0.4" stroke-linecap="round" stroke-linejoin="round"/>
<polyline points="756.6,167.5 756.6,176.7" fill="none" stroke="#e3c48c" stroke-width="0.4" stroke-linecap="round" stroke-linejoin="round"/>
<polyline points="759.7,168.2 759.7,177.4" fill="none" stroke="#e3c48c" stroke-width="0.4" stroke-linecap="round" stroke-linejoin="round"/>
<polyline points="762.8,169.0 762.8,178.1" fill="none" stroke="#e3c48c" stroke-width="0.4" stroke-linecap="round" stroke-linejoin="round"/>
<polyline points="765.9,169.7 765.9,178.9" fill="none" stroke="#e3c48c" stroke-width="0.4" stroke-linecap="round" stroke-linejoin="round"/>
<polyline points="769.0,170.4 769.0,179.6" fill="none" stroke="#e3c48c" stroke-width="0.4" stroke-linecap="round" stroke-linejoin="round"/>
<polyline points="772.1,171.2 772.1,180.4" fill="none" stroke="#e3c48c" stroke-width="0.4" stroke-linecap="round" stroke-linejoin="round"/>
<polyline points="775.2,171.9 775.2,181.1" fill="none" stroke="#e3c48c" stroke-width="0.4" stroke-linecap="round" stroke-linejoin="round"/>
<polyline points="778.3,172.7 778.3,181.9" fill="none" stroke="#e3c48c" stroke-width="0.4" stroke-linecap="round" stroke-linejoin="round"/>
<polyline points="751.7,165.6 781.3,172.2 781.3,181.1" fill="none" stroke="#e3c48c" stroke-width="0.4" stroke-linecap="round" stroke-linejoin="round"/>
<polyline points="781.3,172.2 785.7,170.3" fill="none" stroke="#e3c48c" stroke-width="0.4" stroke-linecap="round" stroke-linejoin="round"/>
<polyline points="783.5,178.9 821.3,187.8 828.7,181.1" fill="none" stroke="#e3c48c" stroke-width="0.4" stroke-linecap="round" stroke-linejoin="round"/>
<polyline points="821.3,185.1 821.3,193.7" fill="none" stroke="#e3c48c" stroke-width="0.4" stroke-linecap="round" stroke-linejoin="round"/>
<polyline points="843.5,164.8 843.5,187.0" fill="none" stroke="#e3c48c" stroke-width="0.4" stroke-linecap="round" stroke-linejoin="round"/>
<polyline points="825.7,170.3 843.5,164.8" fill="none" stroke="#e3c48c" stroke-width="0.4" stroke-linecap="round" stroke-linejoin="round"/>
<polygon points="829.4,187.0 836.1,183.6 836.1,186.0 829.4,189.6" fill="#f6ead2" opacity="0.85"/>
<polygon points="824.0,187.0 826.9,187.6 826.9,193.4 824.0,192.8" fill="#efd9b0" opacity="0.8"/>
<polygon points="845.3,181.1 846.8,180.5 846.8,182.6 845.3,183.2" fill="#f6ead2"/>
<polygon points="848.3,179.9 849.7,179.3 849.7,181.4 848.3,182.0" fill="#f6ead2"/>
<polygon points="717.5,199.3 736.7,200.0 769.2,208.3 769.2,212.3 748.3,208.3" fill="#c4943a"/>
<polygon points="629.2,216.7 655.8,204.2 665.3,208.0 665.3,215.5 641.7,228.0 629.2,224.5" fill="#c4943a"/>
<polyline points="629.2,216.7 640.8,220.8 665.3,209.2" fill="none" stroke="#e3c48c" stroke-width="0.4" stroke-linecap="round" stroke-linejoin="round"/>
<polyline points="640.8,220.8 641.7,228.0" fill="none" stroke="#e3c48c" stroke-width="0.4" stroke-linecap="round" stroke-linejoin="round"/>
<polygon points="630.7,219.7 634.3,220.7 634.3,224.8 630.7,223.8" fill="#c4943a" stroke="#e3c48c" stroke-width="0.5" stroke-linejoin="round"/>
<polygon points="618.3,232.0 641.7,238.0 662.5,227.5 663.0,231.2 641.7,242.0 618.3,236.0" fill="#c4943a"/>
<polygon points="657.5,202.5 732.5,219.7 738.7,220.8 738.7,240.3 698.3,230.3 698.3,228.0 665.0,219.7" fill="#c4943a"/>
<polygon points="667.5,208.8 670.0,209.4 670.0,212.7 667.5,212.1" fill="#f8efdc"/>
<polygon points="671.2,209.7 673.7,210.4 673.7,213.6 671.2,213.0" fill="#f8efdc"/>
<polygon points="674.9,210.7 677.4,211.3 677.4,214.5 674.9,213.9" fill="#f8efdc"/>
<polygon points="678.6,211.6 681.1,212.2 681.1,215.4 678.6,214.8" fill="#f8efdc"/>
<polygon points="682.4,212.5 684.9,213.1 684.9,216.3 682.4,215.7" fill="#f8efdc"/>
<polygon points="686.1,213.4 688.6,214.0 688.6,217.2 686.1,216.6" fill="#f8efdc"/>
<polygon points="689.8,214.3 692.3,214.9 692.3,218.1 689.8,217.5" fill="#f8efdc"/>
<polygon points="693.5,215.2 696.0,215.8 696.0,219.0 693.5,218.4" fill="#f8efdc"/>
<polygon points="701.0,217.0 703.5,217.6 703.5,220.8 701.0,220.2" fill="#f8efdc"/>
<polygon points="704.7,217.9 707.2,218.5 707.2,221.8 704.7,221.1" fill="#f8efdc"/>
<polygon points="708.4,218.8 710.9,219.4 710.9,222.7 708.4,222.0" fill="#f8efdc"/>
<polygon points="712.1,219.7 714.6,220.3 714.6,223.6 712.1,222.9" fill="#f8efdc"/>
<polygon points="715.8,220.6 718.3,221.3 718.3,224.5 715.8,223.9" fill="#f8efdc"/>
<polygon points="719.5,221.6 722.0,222.2 722.0,225.4 719.5,224.8" fill="#f8efdc"/>
<polygon points="723.2,222.5 725.8,223.1 725.8,226.3 723.2,225.7" fill="#f8efdc"/>
<polygon points="727.0,223.4 729.5,224.0 729.5,227.2 727.0,226.6" fill="#f8efdc"/>
<polygon points="730.7,224.3 733.2,224.9 733.2,228.1 730.7,227.5" fill="#f8efdc"/>
<polygon points="734.4,225.2 736.9,225.8 736.9,229.0 734.4,228.4" fill="#f8efdc"/>
<polygon points="667.5,216.5 670.0,217.1 670.0,220.3 667.5,219.7" fill="#f8efdc"/>
<polygon points="671.2,217.4 673.7,218.0 673.7,221.2 671.2,220.6" fill="#f8efdc"/>
<polygon points="674.9,218.3 677.4,218.9 677.4,222.2 674.9,221.5" fill="#f8efdc"/>
<polygon points="678.6,219.2 681.1,219.8 681.1,223.1 678.6,222.4" fill="#f8efdc"/>
<polygon points="682.4,220.1 684.9,220.8 684.9,224.0 682.4,223.3" fill="#f8efdc"/>
<polygon points="686.1,221.0 688.6,221.7 688.6,224.9 686.1,224.3" fill="#f8efdc"/>
<polygon points="689.8,221.9 692.3,222.6 692.3,225.8 689.8,225.2" fill="#f8efdc"/>
<polygon points="693.5,222.9 696.0,223.5 696.0,226.7 693.5,226.1" fill="#f8efdc"/>
<polygon points="701.0,224.7 703.5,225.3 703.5,228.5 701.0,227.9" fill="#f8efdc"/>
<polygon points="704.7,225.6 707.2,226.2 707.2,229.4 704.7,228.8" fill="#f8efdc"/>
<polygon points="708.4,226.5 710.9,227.1 710.9,230.3 708.4,229.7" fill="#f8efdc"/>
<polygon points="712.1,227.4 714.6,228.0 714.6,231.2 712.1,230.6" fill="#f8efdc"/>
<polygon points="715.8,228.3 718.3,228.9 718.3,232.1 715.8,231.5" fill="#f8efdc"/>
<polygon points="719.5,229.2 722.0,229.8 722.0,233.1 719.5,232.4" fill="#f8efdc"/>
<polygon points="723.2,230.1 725.8,230.7 725.8,234.0 723.2,233.3" fill="#f8efdc"/>
<polygon points="727.0,231.0 729.5,231.7 729.5,234.9 727.0,234.2" fill="#f8efdc"/>
<polygon points="730.7,231.9 733.2,232.6 733.2,235.8 730.7,235.2" fill="#f8efdc"/>
<polygon points="734.4,232.8 736.9,233.5 736.9,236.7 734.4,236.1" fill="#f8efdc"/>
<polygon points="658.7,204.3 660.3,204.8 660.3,207.7 658.7,207.2" fill="#f8efdc"/>
<polygon points="661.0,204.9 662.7,205.3 662.7,208.2 661.0,207.8" fill="#f8efdc"/>
<polygon points="663.3,205.5 665.0,205.9 665.0,208.8 663.3,208.4" fill="#f8efdc"/>
<polygon points="642.5,196.7 666.7,186.3 748.3,207.8 732.5,219.7 655.8,201.3" fill="#f0d8ab"/>
<polyline points="642.5,196.7 655.8,201.3 732.5,219.7" fill="none" stroke="#c4943a" stroke-width="0.4" stroke-linecap="round" stroke-linejoin="round"/>
<polygon points="732.5,219.7 738.7,215.0 738.7,221.3" fill="#c4943a"/>
<polygon points="748.3,208.0 769.2,212.3 762.8,210.7 749.2,223.7" fill="#c4943a"/>
<polygon points="738.7,215.0 748.3,208.0 756.7,210.3 749.2,223.7 749.2,228.3 738.7,232.5" fill="#c4943a"/>
<polygon points="740.3,216.3 746.3,217.7 746.3,221.0 740.3,219.7" fill="#c4943a" stroke="#f8efdc" stroke-width="0.6" stroke-linejoin="round"/>
<polyline points="748.3,208.3 753.3,213.7 747.5,217.5" fill="none" stroke="#e3c48c" stroke-width="0.4" stroke-linecap="round" stroke-linejoin="round"/>
<polygon points="749.2,224.2 768.3,230.0 782.5,223.3 782.5,237.8 758.3,251.2 740.0,242.0 740.0,232.5 749.2,228.3" fill="#c4943a"/>
<polygon points="749.7,226.0 765.8,230.8 765.8,233.3 749.7,228.5" fill="#f8efdc"/>
<polyline points="752.0,226.7 752.0,229.2" fill="none" stroke="#c4943a" stroke-width="0.5" stroke-linecap="round" stroke-linejoin="round"/>
<polyline points="754.5,227.4 754.5,229.9" fill="none" stroke="#c4943a" stroke-width="0.5" stroke-linecap="round" stroke-linejoin="round"/>
<polyline points="757.0,228.2 757.0,230.7" fill="none" stroke="#c4943a" stroke-width="0.5" stroke-linecap="round" stroke-linejoin="round"/>
<polyline points="759.5,228.9 759.5,231.4" fill="none" stroke="#c4943a" stroke-width="0.5" stroke-linecap="round" stroke-linejoin="round"/>
<polyline points="762.0,229.7 762.0,232.2" fill="none" stroke="#c4943a" stroke-width="0.5" stroke-linecap="round" stroke-linejoin="round"/>
<polyline points="764.5,230.4 764.5,232.9" fill="none" stroke="#c4943a" stroke-width="0.5" stroke-linecap="round" stroke-linejoin="round"/>
<polygon points="779.2,226.0 781.7,225.0 781.7,226.7 779.2,227.7" fill="#f8efdc" opacity="0.8"/>
<polygon points="779.2,228.7 781.7,227.7 781.7,229.3 779.2,230.3" fill="#f8efdc" opacity="0.8"/>
<polygon points="779.2,231.3 781.7,230.3 781.7,232.0 779.2,233.0" fill="#f8efdc" opacity="0.8"/>
<polygon points="779.2,234.0 781.7,233.0 781.7,234.7 779.2,235.7" fill="#f8efdc" opacity="0.8"/>
<polyline points="740.0,232.5 758.3,239.5 768.3,234.2" fill="none" stroke="#e3c48c" stroke-width="0.4" stroke-linecap="round" stroke-linejoin="round"/>
<polyline points="758.3,239.5 758.3,251.2" fill="none" stroke="#e3c48c" stroke-width="0.4" stroke-linecap="round" stroke-linejoin="round"/>
<polygon points="747.5,223.3 762.8,210.7 791.7,218.3 768.3,230.0" fill="#f0d8ab" stroke="#c4943a" stroke-width="0.4" stroke-linejoin="round"/>
<polyline points="762.8,210.7 768.3,230.0" fill="none" stroke="#c4943a" stroke-width="0.4" stroke-linecap="round" stroke-linejoin="round"/>
<polyline points="762.8,210.7 775.8,226.3" fill="none" stroke="#c4943a" stroke-width="0.3" stroke-linecap="round" stroke-linejoin="round" opacity="0.6"/>
<polygon points="735.0,280.8 751.7,270.8 753.7,263.7 783.3,273.7 783.3,285.0 753.7,285.0 741.7,291.2 735.0,293.7" fill="#c4943a"/>
<polyline points="741.7,280.8 741.7,291.2" fill="none" stroke="#e3c48c" stroke-width="0.4" stroke-linecap="round" stroke-linejoin="round"/>
<polygon points="726.7,295.8 741.7,290.0 753.7,295.0 753.7,298.7 746.7,302.0 726.7,298.7" fill="#c4943a"/>
<polygon points="727.3,296.0 741.7,290.8 752.7,295.2 746.3,298.2" fill="#e2e4e4"/>
<polygon points="808.3,271.7 815.8,266.3 845.0,247.0 854.7,245.3 854.7,270.8 849.2,272.5 818.3,293.7 811.7,297.0 808.3,295.0" fill="#c4943a"/>
<polygon points="820.8,270.8 822.7,269.7 822.7,285.2 820.8,286.3" fill="#f8efdc"/>
<polygon points="820.8,268.2 822.7,267.0 822.7,268.7 820.8,269.8" fill="#f8efdc"/>
<polygon points="824.1,268.7 825.9,267.6 825.9,283.2 824.1,284.3" fill="#f8efdc"/>
<polygon points="824.1,266.1 825.9,264.9 825.9,266.6 824.1,267.7" fill="#f8efdc"/>
<polygon points="827.3,266.6 829.2,265.5 829.2,281.2 827.3,282.3" fill="#f8efdc"/>
<polygon points="827.3,264.0 829.2,262.8 829.2,264.5 827.3,265.6" fill="#f8efdc"/>
<polygon points="830.6,264.5 832.4,263.4 832.4,279.2 830.6,280.3" fill="#f8efdc"/>
<polygon points="830.6,261.9 832.4,260.7 832.4,262.4 830.6,263.5" fill="#f8efdc"/>
<polygon points="833.8,262.4 835.7,261.3 835.7,277.2 833.8,278.3" fill="#f8efdc"/>
<polygon points="833.8,259.8 835.7,258.6 835.7,260.3 833.8,261.4" fill="#f8efdc"/>
<polygon points="837.1,260.3 838.9,259.2 838.9,275.2 837.1,276.3" fill="#f8efdc"/>
<polygon points="837.1,257.7 838.9,256.5 838.9,258.2 837.1,259.3" fill="#f8efdc"/>
<polygon points="840.3,258.2 842.2,257.1 842.2,273.2 840.3,274.3" fill="#f8efdc"/>
<polygon points="840.3,255.6 842.2,254.4 842.2,256.1 840.3,257.2" fill="#f8efdc"/>
<polygon points="843.6,256.1 845.4,255.0 845.4,271.2 843.6,272.3" fill="#f8efdc"/>
<polygon points="843.6,253.5 845.4,252.3 845.4,254.0 843.6,255.1" fill="#f8efdc"/>
<polygon points="847.5,250.8 849.7,250.5 849.7,251.7 847.5,252.0" fill="#f8efdc" opacity="0.85"/>
<polygon points="851.0,250.0 853.0,249.5 853.0,250.7 851.0,251.2" fill="#f8efdc" opacity="0.85"/>
<polygon points="847.5,252.8 849.7,252.4 849.7,253.6 847.5,253.9" fill="#f8efdc" opacity="0.85"/>
<polygon points="851.0,251.9 853.0,251.4 853.0,252.6 851.0,253.1" fill="#f8efdc" opacity="0.85"/>
<polygon points="847.5,254.7 849.7,254.3 849.7,255.5 847.5,255.8" fill="#f8efdc" opacity="0.85"/>
<polygon points="851.0,253.8 853.0,253.3 853.0,254.5 851.0,255.0" fill="#f8efdc" opacity="0.85"/>
<polygon points="847.5,256.6 849.7,256.2 849.7,257.4 847.5,257.8" fill="#f8efdc" opacity="0.85"/>
<polygon points="851.0,255.8 853.0,255.2 853.0,256.4 851.0,256.9" fill="#f8efdc" opacity="0.85"/>
<polygon points="847.5,258.5 849.7,258.2 849.7,259.3 847.5,259.7" fill="#f8efdc" opacity="0.85"/>
<polygon points="851.0,257.7 853.0,257.2 853.0,258.3 851.0,258.8" fill="#f8efdc" opacity="0.85"/>
<polygon points="847.5,260.4 849.7,260.1 849.7,261.2 847.5,261.6" fill="#f8efdc" opacity="0.85"/>
<polygon points="851.0,259.6 853.0,259.1 853.0,260.2 851.0,260.8" fill="#f8efdc" opacity="0.85"/>
<polygon points="847.5,262.3 849.7,262.0 849.7,263.2 847.5,263.5" fill="#f8efdc" opacity="0.85"/>
<polygon points="851.0,261.5 853.0,261.0 853.0,262.2 851.0,262.7" fill="#f8efdc" opacity="0.85"/>
<polygon points="847.5,264.2 849.7,263.9 849.7,265.1 847.5,265.4" fill="#f8efdc" opacity="0.85"/>
<polygon points="851.0,263.4 853.0,262.9 853.0,264.1 851.0,264.6" fill="#f8efdc" opacity="0.85"/>
<polygon points="847.5,266.2 849.7,265.8 849.7,267.0 847.5,267.3" fill="#f8efdc" opacity="0.85"/>
<polygon points="851.0,265.3 853.0,264.8 853.0,266.0 851.0,266.5" fill="#f8efdc" opacity="0.85"/>
<polygon points="847.5,268.1 849.7,267.8 849.7,268.9 847.5,269.2" fill="#f8efdc" opacity="0.85"/>
<polygon points="851.0,267.2 853.0,266.8 853.0,267.9 851.0,268.4" fill="#f8efdc" opacity="0.85"/>
<polygon points="815.3,273.7 817.7,272.7 817.7,273.8 815.3,274.8" fill="#f8efdc" opacity="0.85"/>
<polygon points="815.3,275.7 817.7,274.7 817.7,275.8 815.3,276.8" fill="#f8efdc" opacity="0.85"/>
<polygon points="815.3,277.7 817.7,276.7 817.7,277.8 815.3,278.8" fill="#f8efdc" opacity="0.85"/>
<polygon points="815.3,279.7 817.7,278.7 817.7,279.8 815.3,280.8" fill="#f8efdc" opacity="0.85"/>
<polygon points="815.3,281.7 817.7,280.7 817.7,281.8 815.3,282.8" fill="#f8efdc" opacity="0.85"/>
<polygon points="815.3,283.7 817.7,282.7 817.7,283.8 815.3,284.8" fill="#f8efdc" opacity="0.85"/>
<polygon points="815.3,285.7 817.7,284.7 817.7,285.8 815.3,286.8" fill="#f8efdc" opacity="0.85"/>
<polygon points="815.3,287.7 817.7,286.7 817.7,287.8 815.3,288.8" fill="#f8efdc" opacity="0.85"/>
<polygon points="815.3,289.7 817.7,288.7 817.7,289.8 815.3,290.8" fill="#f8efdc" opacity="0.85"/>
<polygon points="854.2,245.0 920.0,259.7 918.3,285.8 854.2,270.8" fill="#c4943a"/>
<polygon points="855.8,248.8 859.0,249.6 859.0,251.8 855.8,251.1" fill="#f8efdc"/>
<polygon points="856.3,249.5 858.5,250.0 858.5,251.2 856.3,250.8" fill="#c4943a" opacity="0.55"/>
<polygon points="860.6,249.9 863.8,250.7 863.8,252.9 860.6,252.2" fill="#f8efdc"/>
<polygon points="861.1,250.6 863.2,251.1 863.2,252.3 861.1,251.8" fill="#c4943a" opacity="0.55"/>
<polygon points="865.3,251.0 868.5,251.8 868.5,254.0 865.3,253.3" fill="#f8efdc"/>
<polygon points="865.8,251.7 868.0,252.2 868.0,253.4 865.8,252.9" fill="#c4943a" opacity="0.55"/>
<polygon points="870.1,252.1 873.2,252.9 873.2,255.1 870.1,254.4" fill="#f8efdc"/>
<polygon points="870.6,252.8 872.8,253.3 872.8,254.6 870.6,254.1" fill="#c4943a" opacity="0.55"/>
<polygon points="874.8,253.2 878.0,254.0 878.0,256.2 874.8,255.5" fill="#f8efdc"/>
<polygon points="875.3,253.9 877.5,254.4 877.5,255.7 875.3,255.2" fill="#c4943a" opacity="0.55"/>
<polygon points="879.6,254.3 882.8,255.1 882.8,257.3 879.6,256.6" fill="#f8efdc"/>
<polygon points="880.1,255.0 882.2,255.5 882.2,256.8 880.1,256.2" fill="#c4943a" opacity="0.55"/>
<polygon points="884.3,255.4 887.5,256.2 887.5,258.4 884.3,257.7" fill="#f8efdc"/>
<polygon points="884.8,256.1 887.0,256.6 887.0,257.9 884.8,257.4" fill="#c4943a" opacity="0.55"/>
<polygon points="889.1,256.5 892.2,257.3 892.2,259.5 889.1,258.8" fill="#f8efdc"/>
<polygon points="889.6,257.2 891.8,257.7 891.8,258.9 889.6,258.4" fill="#c4943a" opacity="0.55"/>
<polygon points="893.8,257.6 897.0,258.4 897.0,260.6 893.8,259.9" fill="#f8efdc"/>
<polygon points="894.3,258.3 896.5,258.8 896.5,260.1 894.3,259.6" fill="#c4943a" opacity="0.55"/>
<polygon points="898.6,258.7 901.8,259.5 901.8,261.7 898.6,261.0" fill="#f8efdc"/>
<polygon points="899.1,259.4 901.2,259.9 901.2,261.1 899.1,260.6" fill="#c4943a" opacity="0.55"/>
<polygon points="903.3,259.8 906.5,260.6 906.5,262.8 903.3,262.1" fill="#f8efdc"/>
<polygon points="903.8,260.5 906.0,261.0 906.0,262.2 903.8,261.8" fill="#c4943a" opacity="0.55"/>
<polygon points="855.3,255.0 858.2,255.7 858.2,268.7 855.3,268.0" fill="#f8efdc"/>
<polygon points="860.1,256.2 862.9,256.8 862.9,269.8 860.1,269.2" fill="#f8efdc"/>
<polygon points="864.8,257.3 867.7,258.0 867.7,271.0 864.8,270.3" fill="#f8efdc"/>
<polygon points="869.6,258.5 872.4,259.2 872.4,272.2 869.6,271.5" fill="#f8efdc"/>
<polygon points="874.3,259.7 877.2,260.3 877.2,273.3 874.3,272.7" fill="#f8efdc"/>
<polygon points="913.3,248.8 918.0,247.0 930.8,250.5 930.0,265.0 925.8,284.2 918.3,285.8 919.7,259.7 915.0,253.0 911.3,251.2" fill="#c4943a"/>
<polyline points="920.0,259.7 921.7,250.8 918.0,247.0" fill="none" stroke="#e3c48c" stroke-width="0.4" stroke-linecap="round" stroke-linejoin="round"/>
<polyline points="921.7,250.8 930.8,253.0" fill="none" stroke="#e3c48c" stroke-width="0.4" stroke-linecap="round" stroke-linejoin="round"/>
<polyline points="925.8,284.2 927.0,252.5" fill="none" stroke="#e3c48c" stroke-width="0.4" stroke-linecap="round" stroke-linejoin="round"/>
<polygon points="927.0,270.0 930.0,266.7 956.7,275.8 952.0,285.8 948.3,286.7 926.3,280.8" fill="#c4943a"/>
<polygon points="930.0,266.7 933.7,265.0 968.0,277.2 962.8,282.0 957.5,277.0 930.8,270.3" fill="#f0d8ab" stroke="#c4943a" stroke-width="0.3" stroke-linejoin="round"/>
<polyline points="957.5,277.0 968.0,277.2" fill="none" stroke="#c4943a" stroke-width="0.3" stroke-linecap="round" stroke-linejoin="round"/>
<polygon points="790.8,270.3 804.2,274.5 817.5,268.7 815.8,266.3 808.3,271.7 808.3,295.0 789.2,295.0 783.3,285.0 783.3,273.7" fill="#c4943a"/>
<polygon points="753.3,263.7 805.0,229.7 810.0,225.3 842.5,234.7 849.2,241.3 858.3,233.7 913.3,248.8 911.3,251.2 915.0,253.0 920.0,259.7 854.2,245.0 845.3,247.0 815.8,266.3 817.5,268.7 804.2,274.5 790.8,270.3 783.3,273.7" fill="#f0d8ab"/>
<polyline points="753.3,263.7 783.3,273.7 790.8,270.3 804.2,274.5 817.5,268.7 815.8,266.3 845.3,247.0 854.7,245.3 920.0,259.7" fill="none" stroke="#c4943a" stroke-width="0.4" stroke-linecap="round" stroke-linejoin="round"/>
<polygon points="757.5,255.5 803.3,229.7 805.3,231.7 760.8,258.7" fill="#c4943a"/>
<polyline points="759.7,256.7 804.0,231.0" fill="none" stroke="#fdf8ee" stroke-width="1.3" stroke-linecap="round" stroke-linejoin="round" stroke-dasharray="1.5,1.6"/>
<polygon points="809.2,225.0 843.0,234.5 841.3,236.8 807.2,228.0" fill="#c4943a"/>
<polyline points="810.3,227.0 841.7,235.7" fill="none" stroke="#fdf8ee" stroke-width="1.4" stroke-linecap="round" stroke-linejoin="round" stroke-dasharray="2.2,2"/>
<polygon points="772.5,262.0 775.8,260.0 779.7,261.3 776.3,263.5" fill="#c4943a"/>
<polygon points="756.7,285.8 789.2,295.0 811.7,281.7 811.7,297.0 791.7,305.8 756.7,305.8" fill="#c4943a"/>
<polygon points="758.3,287.8 761.0,288.6 761.0,290.2 758.3,289.4" fill="#f8efdc"/>
<polygon points="762.3,289.0 765.0,289.8 765.0,291.3 762.3,290.6" fill="#f8efdc"/>
<polygon points="766.3,290.2 769.0,290.9 769.0,292.5 766.3,291.8" fill="#f8efdc"/>
<polygon points="770.3,291.3 773.0,292.1 773.0,293.7 770.3,292.9" fill="#f8efdc"/>
<polygon points="790.8,298.3 793.0,297.0 793.0,305.0 790.8,306.3" fill="#f8efdc"/>
<polygon points="794.5,296.2 796.7,294.8 796.7,302.8 794.5,304.2" fill="#f8efdc"/>
<polygon points="798.2,294.0 800.3,292.7 800.3,300.7 798.2,302.0" fill="#f8efdc"/>
<polygon points="801.8,291.8 804.0,290.5 804.0,298.5 801.8,299.8" fill="#f8efdc"/>
<polygon points="805.5,289.7 807.7,288.3 807.7,296.3 805.5,297.7" fill="#f8efdc"/>
<polygon points="775.0,294.7 777.3,295.3 777.3,297.0 775.0,296.3" fill="#f8efdc"/>
<polygon points="775.0,298.7 777.3,299.3 777.3,304.7 775.0,304.0" fill="#f8efdc"/>
<polygon points="778.7,295.7 781.0,296.3 781.0,298.0 778.7,297.3" fill="#f8efdc"/>
<polygon points="778.7,299.7 781.0,300.3 781.0,305.7 778.7,305.0" fill="#f8efdc"/>
<polygon points="782.3,296.7 784.7,297.3 784.7,299.0 782.3,298.3" fill="#f8efdc"/>
<polygon points="782.3,300.7 784.7,301.3 784.7,306.7 782.3,306.0" fill="#f8efdc"/>
<polygon points="786.0,297.7 788.3,298.3 788.3,300.0 786.0,299.3" fill="#f8efdc"/>
<polygon points="786.0,301.7 788.3,302.3 788.3,307.7 786.0,307.0" fill="#f8efdc"/>
<polygon points="752.5,283.3 784.5,273.7 811.7,280.8 789.2,295.0" fill="#f0d8ab" stroke="#c4943a" stroke-width="0.4" stroke-linejoin="round"/>
<polyline points="784.5,273.7 789.2,295.0" fill="none" stroke="#c4943a" stroke-width="0.4" stroke-linecap="round" stroke-linejoin="round"/>
<polyline points="784.5,273.7 771.7,289.2" fill="none" stroke="#c4943a" stroke-width="0.3" stroke-linecap="round" stroke-linejoin="round" opacity="0.6"/>
<ellipse cx="966.7" cy="258.8" rx="8.6" ry="5" fill="#fff" stroke="#131c30" stroke-width="1" transform="rotate(-12 966.7 258.8)"/>
<path d="M962.5,261.5 l1.2,-2.2 M966,259.5 l1.6,-3.2 M969.8,257.8 l1.2,-2.6" fill="none" stroke="#131c30" stroke-width="1" stroke-linejoin="round" stroke-linecap="round"/>
<polygon points="450.0,195.8 487.5,182.0 498.0,185.0 535.0,197.5 535.0,210.0 501.7,227.0 493.3,224.5 453.3,210.3 452.5,198.0" fill="#c4943a"/>
<polygon points="470.8,201.7 490.8,195.3 514.2,203.3 499.2,211.2" fill="#f0d8ab"/>
<polyline points="450.0,195.8 452.5,198.0 493.3,213.0 501.7,215.8 535.0,198.0" fill="none" stroke="#e3c48c" stroke-width="0.4" stroke-linecap="round" stroke-linejoin="round"/>
<polyline points="487.5,182.0 487.5,194.2 470.8,201.7" fill="none" stroke="#e3c48c" stroke-width="0.35" stroke-linecap="round" stroke-linejoin="round"/>
<polyline points="487.5,194.2 514.2,203.3 514.2,208.3" fill="none" stroke="#e3c48c" stroke-width="0.35" stroke-linecap="round" stroke-linejoin="round"/>
<polyline points="499.2,211.2 499.2,215.0" fill="none" stroke="#e3c48c" stroke-width="0.35" stroke-linecap="round" stroke-linejoin="round"/>
<polyline points="460.0,201.3 460.0,211.7" fill="none" stroke="#e3c48c" stroke-width="0.35" stroke-linecap="round" stroke-linejoin="round"/>
<polyline points="469.2,204.7 469.2,215.0" fill="none" stroke="#e3c48c" stroke-width="0.35" stroke-linecap="round" stroke-linejoin="round"/>
<polyline points="479.2,208.0 479.2,218.3" fill="none" stroke="#e3c48c" stroke-width="0.35" stroke-linecap="round" stroke-linejoin="round"/>
<polyline points="490.0,212.0 490.0,222.3" fill="none" stroke="#e3c48c" stroke-width="0.35" stroke-linecap="round" stroke-linejoin="round"/>
<polyline points="501.7,215.8 501.7,227.0" fill="none" stroke="#e3c48c" stroke-width="0.4" stroke-linecap="round" stroke-linejoin="round"/>
<polyline points="516.7,208.3 516.7,218.7" fill="none" stroke="#e3c48c" stroke-width="0.35" stroke-linecap="round" stroke-linejoin="round"/>
<polygon points="535.0,197.5 562.5,187.0 589.2,194.2 597.5,190.5 597.5,198.0 589.2,202.8 562.5,195.3 535.0,205.0" fill="#c4943a"/>
<polyline points="589.2,194.2 589.2,202.8" fill="none" stroke="#e3c48c" stroke-width="0.4" stroke-linecap="round" stroke-linejoin="round"/>
<polygon points="583.0,196.7 587.5,197.8 587.5,201.2 583.0,200.0" fill="#c4943a" stroke="#f8efdc" stroke-width="0.6" stroke-linejoin="round"/>
<path d="M554.2,197.0 v-3 l2.5,-1.2 v3" fill="none" stroke="#f8efdc" stroke-width="0.5" stroke-linejoin="round" stroke-linecap="round"/>
<path d="M556.7,196.0 v-4.2 l3,-1.5 v4.3" fill="none" stroke="#f8efdc" stroke-width="0.5" stroke-linejoin="round" stroke-linecap="round"/>
<polyline points="564.2,191.2 572.5,193.2" fill="none" stroke="#f8efdc" stroke-width="0.8" stroke-linecap="round" stroke-linejoin="round" stroke-dasharray="0.8,0.6"/>
<polyline points="540.0,196.2 562.5,187.5" fill="none" stroke="#f8efdc" stroke-width="0.6" stroke-linecap="round" stroke-linejoin="round"/>
<polygon points="498.0,185.0 528.3,172.8 550.0,175.5 562.5,186.7 540.0,195.8 535.0,197.5" fill="#f0d8ab"/>
<circle cx="528.0" cy="179.2" r="1" fill="#c4943a"/>
<polygon points="549.2,175.8 555.0,173.0 576.7,180.3 577.0,182.8 597.5,190.5 589.2,194.2 562.5,186.7" fill="#f0d8ab"/>
<polygon points="551.3,174.7 555.0,173.0 576.7,180.3 577.0,182.8 573.3,181.7 555.0,175.5" fill="#f0d8ab" stroke="#c4943a" stroke-width="0.4" stroke-linejoin="round"/>
<polyline points="550.0,175.5 562.5,186.7 589.2,194.2" fill="none" stroke="#c4943a" stroke-width="0.3" stroke-linecap="round" stroke-linejoin="round"/>
<polygon points="104.3,329.4 125.0,346.1 130.6,366.1 117.2,360.1 111.0,334.3" fill="#b7dcbf"/>
<polygon points="117.2,344.3 119.4,345.4 120.1,349.0 117.9,347.9" fill="#eef7ef"/>
<polygon points="118.8,351.4 121.0,352.6 121.7,356.1 119.4,355.0" fill="#eef7ef"/>
<polygon points="120.3,358.6 122.6,359.7 123.2,363.2 121.0,362.1" fill="#eef7ef"/>
<polygon points="125.0,346.1 276.1,286.1 282.8,307.2 135.0,366.8" fill="#b7dcbf"/>
<polygon points="131.9,347.5 134.9,346.3 136.2,349.0 133.2,350.2" fill="#eef7ef"/>
<polygon points="137.9,345.1 140.9,344.0 142.1,346.6 139.2,347.8" fill="#eef7ef"/>
<polygon points="143.9,342.8 146.8,341.6 148.1,344.2 145.1,345.4" fill="#eef7ef"/>
<polygon points="149.8,340.4 152.8,339.2 154.0,341.9 151.0,343.1" fill="#eef7ef"/>
<polygon points="155.8,338.0 158.8,336.8 160.0,339.5 157.0,340.7" fill="#eef7ef"/>
<polygon points="161.7,335.7 164.7,334.5 165.9,337.1 162.9,338.3" fill="#eef7ef"/>
<polygon points="167.7,333.3 170.7,332.1 171.8,334.8 168.9,335.9" fill="#eef7ef"/>
<polygon points="173.7,330.9 176.6,329.7 177.8,332.4 174.8,333.6" fill="#eef7ef"/>
<polygon points="179.6,328.5 182.6,327.4 183.7,330.0 180.7,331.2" fill="#eef7ef"/>
<polygon points="185.6,326.2 188.6,325.0 189.7,327.7 186.7,328.8" fill="#eef7ef"/>
<polygon points="191.5,323.8 194.5,322.6 195.6,325.3 192.6,326.5" fill="#eef7ef"/>
<polygon points="197.5,321.4 200.5,320.2 201.5,322.9 198.6,324.1" fill="#eef7ef"/>
<polygon points="203.5,319.1 206.4,317.9 207.5,320.5 204.5,321.7" fill="#eef7ef"/>
<polygon points="209.4,316.7 212.4,315.5 213.4,318.2 210.5,319.4" fill="#eef7ef"/>
<polygon points="215.4,314.3 218.4,313.1 219.4,315.8 216.4,317.0" fill="#eef7ef"/>
<polygon points="221.3,311.9 224.3,310.8 225.3,313.4 222.3,314.6" fill="#eef7ef"/>
<polygon points="227.3,309.6 230.3,308.4 231.3,311.1 228.3,312.3" fill="#eef7ef"/>
<polygon points="233.3,307.2 236.2,306.0 237.2,308.7 234.2,309.9" fill="#eef7ef"/>
<polygon points="239.2,304.8 242.2,303.6 243.1,306.3 240.2,307.5" fill="#eef7ef"/>
<polygon points="245.2,302.5 248.1,301.3 249.1,304.0 246.1,305.1" fill="#eef7ef"/>
<polygon points="251.1,300.1 254.1,298.9 255.0,301.6 252.1,302.8" fill="#eef7ef"/>
<polygon points="257.1,297.7 260.1,296.5 261.0,299.2 258.0,300.4" fill="#eef7ef"/>
<polygon points="263.0,295.3 266.0,294.1 266.9,296.8 263.9,298.0" fill="#eef7ef"/>
<polygon points="269.0,293.0 272.0,291.8 272.9,294.5 269.9,295.7" fill="#eef7ef"/>
<polygon points="134.6,353.0 137.5,351.9 138.8,354.5 135.8,355.7" fill="#eef7ef"/>
<polygon points="140.5,350.7 143.5,349.5 144.7,352.1 141.8,353.3" fill="#eef7ef"/>
<polygon points="146.4,348.3 149.4,347.1 150.6,349.8 147.7,351.0" fill="#eef7ef"/>
<polygon points="152.4,345.9 155.3,344.7 156.5,347.4 153.6,348.6" fill="#eef7ef"/>
<polygon points="158.3,343.6 161.2,342.4 162.4,345.0 159.5,346.2" fill="#eef7ef"/>
<polygon points="164.2,341.2 167.2,340.0 168.3,342.7 165.4,343.9" fill="#eef7ef"/>
<polygon points="170.1,338.8 173.1,337.6 174.2,340.3 171.3,341.5" fill="#eef7ef"/>
<polygon points="176.1,336.5 179.0,335.3 180.2,337.9 177.2,339.1" fill="#eef7ef"/>
<polygon points="182.0,334.1 184.9,332.9 186.1,335.6 183.1,336.8" fill="#eef7ef"/>
<polygon points="187.9,331.7 190.9,330.5 192.0,333.2 189.0,334.4" fill="#eef7ef"/>
<polygon points="193.8,329.4 196.8,328.2 197.9,330.8 194.9,332.0" fill="#eef7ef"/>
<polygon points="199.7,327.0 202.7,325.8 203.8,328.5 200.8,329.7" fill="#eef7ef"/>
<polygon points="205.7,324.6 208.6,323.4 209.7,326.1 206.7,327.3" fill="#eef7ef"/>
<polygon points="211.6,322.3 214.6,321.1 215.6,323.8 212.6,324.9" fill="#eef7ef"/>
<polygon points="217.5,319.9 220.5,318.7 221.5,321.4 218.5,322.6" fill="#eef7ef"/>
<polygon points="223.4,317.5 226.4,316.3 227.4,319.0 224.5,320.2" fill="#eef7ef"/>
<polygon points="229.4,315.2 232.3,314.0 233.3,316.7 230.4,317.8" fill="#eef7ef"/>
<polygon points="235.3,312.8 238.3,311.6 239.2,314.3 236.3,315.5" fill="#eef7ef"/>
<polygon points="241.2,310.4 244.2,309.2 245.1,311.9 242.2,313.1" fill="#eef7ef"/>
<polygon points="247.1,308.1 250.1,306.9 251.0,309.6 248.1,310.7" fill="#eef7ef"/>
<polygon points="253.1,305.7 256.0,304.5 256.9,307.2 254.0,308.4" fill="#eef7ef"/>
<polygon points="259.0,303.3 261.9,302.1 262.8,304.8 259.9,306.0" fill="#eef7ef"/>
<polygon points="264.9,301.0 267.9,299.8 268.8,302.5 265.8,303.7" fill="#eef7ef"/>
<polygon points="270.8,298.6 273.8,297.4 274.7,300.1 271.7,301.3" fill="#eef7ef"/>
<polygon points="137.2,358.6 140.2,357.4 141.4,360.0 138.5,361.2" fill="#eef7ef"/>
<polygon points="143.1,356.2 146.1,355.0 147.3,357.7 144.4,358.8" fill="#eef7ef"/>
<polygon points="149.0,353.8 151.9,352.6 153.2,355.3 150.2,356.5" fill="#eef7ef"/>
<polygon points="154.9,351.5 157.8,350.3 159.0,352.9 156.1,354.1" fill="#eef7ef"/>
<polygon points="160.8,349.1 163.7,347.9 164.9,350.6 162.0,351.8" fill="#eef7ef"/>
<polygon points="166.7,346.7 169.6,345.6 170.8,348.2 167.8,349.4" fill="#eef7ef"/>
<polygon points="172.6,344.4 175.5,343.2 176.7,345.9 173.7,347.0" fill="#eef7ef"/>
<polygon points="178.4,342.0 181.4,340.8 182.5,343.5 179.6,344.7" fill="#eef7ef"/>
<polygon points="184.3,339.6 187.3,338.5 188.4,341.1 185.5,342.3" fill="#eef7ef"/>
<polygon points="190.2,337.3 193.2,336.1 194.3,338.8 191.3,340.0" fill="#eef7ef"/>
<polygon points="196.1,334.9 199.1,333.7 200.1,336.4 197.2,337.6" fill="#eef7ef"/>
<polygon points="202.0,332.6 204.9,331.4 206.0,334.1 203.1,335.2" fill="#eef7ef"/>
<polygon points="207.9,330.2 210.8,329.0 211.9,331.7 208.9,332.9" fill="#eef7ef"/>
<polygon points="213.8,327.8 216.7,326.7 217.8,329.3 214.8,330.5" fill="#eef7ef"/>
<polygon points="219.7,325.5 222.6,324.3 223.6,327.0 220.7,328.2" fill="#eef7ef"/>
<polygon points="225.5,323.1 228.5,321.9 229.5,324.6 226.6,325.8" fill="#eef7ef"/>
<polygon points="231.4,320.7 234.4,319.6 235.4,322.3 232.4,323.4" fill="#eef7ef"/>
<polygon points="237.3,318.4 240.3,317.2 241.2,319.9 238.3,321.1" fill="#eef7ef"/>
<polygon points="243.2,316.0 246.2,314.8 247.1,317.5 244.2,318.7" fill="#eef7ef"/>
<polygon points="249.1,313.7 252.0,312.5 253.0,315.2 250.0,316.4" fill="#eef7ef"/>
<polygon points="255.0,311.3 257.9,310.1 258.9,312.8 255.9,314.0" fill="#eef7ef"/>
<polygon points="260.9,308.9 263.8,307.8 264.7,310.4 261.8,311.6" fill="#eef7ef"/>
<polygon points="266.8,306.6 269.7,305.4 270.6,308.1 267.7,309.3" fill="#eef7ef"/>
<polygon points="272.7,304.2 275.6,303.0 276.5,305.7 273.5,306.9" fill="#eef7ef"/>
<polyline points="125.0,346.1 130.6,366.1" fill="none" stroke="#a5d3af" stroke-width="0.5" stroke-linecap="round" stroke-linejoin="round"/>
<polygon points="104.3,329.4 261.7,269.9 275.0,277.0 276.1,285.9 125.0,346.1" fill="#d0e8d4"/>
<polyline points="104.3,329.4 125.0,346.1 136.1,319.4 104.3,329.4" fill="none" stroke="#a5d3af" stroke-width="0.35" stroke-linecap="round" stroke-linejoin="round"/>
<polyline points="125.0,346.1 276.1,285.9" fill="none" stroke="#a5d3af" stroke-width="0.35" stroke-linecap="round" stroke-linejoin="round"/>
<polyline points="235.0,280.6 250.6,276.1 270.6,285.0" fill="none" stroke="#a5d3af" stroke-width="0.35" stroke-linecap="round" stroke-linejoin="round"/>
<polygon points="273.1,275.6 277.8,272.8 282.6,308.0 279.4,309.1" fill="#b7dcbf"/>
<polygon points="306.5,264.9 316.2,271.4 319.0,289.4 313.9,295.5" fill="#b7dcbf"/>
<polygon points="309.9,272.1 315.0,273.7 315.4,275.7 310.3,274.5" fill="#eef7ef"/>
<polygon points="310.7,277.0 315.7,277.7 316.0,279.7 311.1,279.4" fill="#eef7ef"/>
<polygon points="311.5,281.9 316.3,281.6 316.7,283.6 311.9,284.3" fill="#eef7ef"/>
<polygon points="312.3,286.8 317.0,285.6 317.3,287.6 312.7,289.2" fill="#eef7ef"/>
<polygon points="261.1,269.5 268.1,266.5 268.1,264.9 285.2,258.7 288.0,259.8 291.7,257.2 306.5,264.9 309.3,271.4 313.9,295.5 304.6,299.2 303.7,295.5 300.9,296.4 301.4,300.6 298.1,301.5 297.2,297.3 294.9,298.2 295.4,302.4 292.1,303.1 291.2,299.2 288.9,300.6 281.9,307.5 276.9,283.9 275.0,276.9" fill="#b7dcbf"/>
<polygon points="268.5,265.1 285.2,258.9 295.2,264.0 279.4,270.0" fill="#d0e8d4"/>
<polyline points="261.1,269.5 275.0,276.9 279.4,270.0" fill="none" stroke="#a5d3af" stroke-width="0.4" stroke-linecap="round" stroke-linejoin="round"/>
<polyline points="279.4,270.0 281.9,275.6 288.9,300.6" fill="none" stroke="#a5d3af" stroke-width="0.4" stroke-linecap="round" stroke-linejoin="round"/>
<polyline points="295.2,264.0 299.1,266.8 304.6,299.2" fill="none" stroke="#a5d3af" stroke-width="0.4" stroke-linecap="round" stroke-linejoin="round"/>
<polyline points="281.9,275.6 299.1,266.8" fill="none" stroke="#a5d3af" stroke-width="0.4" stroke-linecap="round" stroke-linejoin="round"/>
<polyline points="291.7,257.2 299.1,266.8" fill="none" stroke="#a5d3af" stroke-width="0.3" stroke-linecap="round" stroke-linejoin="round"/>
<polygon points="284.4,274.4 288.1,273.3 288.1,276.9 284.4,278.0" fill="#eef7ef"/>
<polygon points="289.5,272.9 293.2,271.8 293.2,275.3 289.5,276.4" fill="#eef7ef"/>
<polygon points="294.6,271.3 298.3,270.2 298.3,273.7 294.6,274.8" fill="#eef7ef"/>
<polygon points="284.4,280.0 288.1,278.9 288.1,282.4 284.4,283.5" fill="#e3f2e5" stroke="#eef7ef" stroke-width="0.5" stroke-linejoin="round"/>
<polygon points="289.5,278.4 293.2,277.3 293.2,280.8 289.5,281.9" fill="#e3f2e5" stroke="#eef7ef" stroke-width="0.5" stroke-linejoin="round"/>
<polygon points="294.6,276.9 298.3,275.7 298.3,279.3 294.6,280.4" fill="#e3f2e5" stroke="#eef7ef" stroke-width="0.5" stroke-linejoin="round"/>
<polygon points="284.4,286.2 288.1,285.1 288.1,287.9 284.4,289.0" fill="#e3f2e5" stroke="#eef7ef" stroke-width="0.5" stroke-linejoin="round"/>
<polygon points="289.5,284.6 293.2,283.5 293.2,286.3 289.5,287.4" fill="#e3f2e5" stroke="#eef7ef" stroke-width="0.5" stroke-linejoin="round"/>
<polygon points="294.6,283.1 298.3,281.9 298.3,284.7 294.6,285.8" fill="#e3f2e5" stroke="#eef7ef" stroke-width="0.5" stroke-linejoin="round"/>
<polygon points="284.4,291.8 288.1,290.6 288.1,293.4 284.4,294.5" fill="#e3f2e5" stroke="#eef7ef" stroke-width="0.5" stroke-linejoin="round"/>
<polygon points="289.5,290.2 293.2,289.1 293.2,291.9 289.5,293.0" fill="#e3f2e5" stroke="#eef7ef" stroke-width="0.5" stroke-linejoin="round"/>
<polygon points="294.6,288.6 298.3,287.5 298.3,290.3 294.6,291.4" fill="#e3f2e5" stroke="#eef7ef" stroke-width="0.5" stroke-linejoin="round"/>
<polygon points="315.3,271.1 324.0,273.1 326.9,294.4 317.2,288.2" fill="#b7dcbf"/>
<polygon points="324.0,273.1 434.9,228.7 434.9,246.8 326.9,294.4" fill="#b7dcbf"/>
<polygon points="328.0,274.5 330.1,273.6 330.4,275.8 328.2,276.6" fill="#eef7ef"/>
<polygon points="332.8,272.5 334.9,271.7 335.2,273.8 333.0,274.7" fill="#eef7ef"/>
<polygon points="337.6,270.6 339.8,269.7 340.0,271.8 337.9,272.7" fill="#eef7ef"/>
<polygon points="342.4,268.6 344.6,267.8 344.8,269.9 342.7,270.7" fill="#eef7ef"/>
<polygon points="347.2,266.7 349.4,265.8 349.6,267.9 347.5,268.8" fill="#eef7ef"/>
<polygon points="352.0,264.7 354.2,263.9 354.4,265.9 352.3,266.8" fill="#eef7ef"/>
<polygon points="356.9,262.8 359.0,261.9 359.2,263.9 357.1,264.8" fill="#eef7ef"/>
<polygon points="361.7,260.8 363.9,259.9 364.0,262.0 361.9,262.9" fill="#eef7ef"/>
<polygon points="366.5,258.9 368.7,258.0 368.9,260.0 366.7,260.9" fill="#eef7ef"/>
<polygon points="371.3,256.9 373.5,256.0 373.7,258.0 371.5,258.9" fill="#eef7ef"/>
<polygon points="376.1,255.0 378.3,254.1 378.5,256.1 376.3,257.0" fill="#eef7ef"/>
<polygon points="381.0,253.0 383.1,252.1 383.3,254.1 381.1,255.0" fill="#eef7ef"/>
<polygon points="385.8,251.1 388.0,250.2 388.1,252.1 385.9,253.0" fill="#eef7ef"/>
<polygon points="390.6,249.1 392.8,248.2 392.9,250.2 390.7,251.1" fill="#eef7ef"/>
<polygon points="395.4,247.1 397.6,246.3 397.7,248.2 395.5,249.1" fill="#eef7ef"/>
<polygon points="400.2,245.2 402.4,244.3 402.5,246.2 400.3,247.1" fill="#eef7ef"/>
<polygon points="405.1,243.2 407.2,242.4 407.3,244.3 405.1,245.1" fill="#eef7ef"/>
<polygon points="409.9,241.3 412.0,240.4 412.1,242.3 409.9,243.2" fill="#eef7ef"/>
<polygon points="414.7,239.3 416.9,238.5 416.9,240.3 414.8,241.2" fill="#eef7ef"/>
<polygon points="419.5,237.4 421.7,236.5 421.7,238.4 419.6,239.2" fill="#eef7ef"/>
<polygon points="424.3,235.4 426.5,234.5 426.5,236.4 424.4,237.3" fill="#eef7ef"/>
<polygon points="429.2,233.5 431.3,232.6 431.3,234.4 429.2,235.3" fill="#eef7ef"/>
<polygon points="328.5,279.0 330.7,278.1 331.0,280.2 328.8,281.1" fill="#eef7ef"/>
<polygon points="333.3,277.0 335.5,276.1 335.8,278.2 333.6,279.1" fill="#eef7ef"/>
<polygon points="338.1,275.0 340.3,274.1 340.5,276.2 338.4,277.1" fill="#eef7ef"/>
<polygon points="342.9,273.0 345.1,272.1 345.3,274.2 343.2,275.1" fill="#eef7ef"/>
<polygon points="347.7,271.0 349.9,270.1 350.1,272.2 347.9,273.1" fill="#eef7ef"/>
<polygon points="352.5,269.0 354.7,268.2 354.9,270.2 352.7,271.1" fill="#eef7ef"/>
<polygon points="357.3,267.1 359.5,266.2 359.7,268.2 357.5,269.1" fill="#eef7ef"/>
<polygon points="362.1,265.1 364.2,264.2 364.4,266.2 362.3,267.1" fill="#eef7ef"/>
<polygon points="366.9,263.1 369.0,262.2 369.2,264.2 367.1,265.1" fill="#eef7ef"/>
<polygon points="371.7,261.1 373.8,260.2 374.0,262.2 371.8,263.1" fill="#eef7ef"/>
<polygon points="376.5,259.1 378.6,258.2 378.8,260.2 376.6,261.1" fill="#eef7ef"/>
<polygon points="381.3,257.1 383.4,256.2 383.6,258.2 381.4,259.1" fill="#eef7ef"/>
<polygon points="386.1,255.2 388.2,254.3 388.3,256.2 386.2,257.1" fill="#eef7ef"/>
<polygon points="390.8,253.2 393.0,252.3 393.1,254.2 391.0,255.1" fill="#eef7ef"/>
<polygon points="395.6,251.2 397.8,250.3 397.9,252.2 395.7,253.1" fill="#eef7ef"/>
<polygon points="400.4,249.2 402.6,248.3 402.7,250.2 400.5,251.1" fill="#eef7ef"/>
<polygon points="405.2,247.2 407.4,246.3 407.5,248.2 405.3,249.1" fill="#eef7ef"/>
<polygon points="410.0,245.2 412.2,244.3 412.2,246.2 410.1,247.1" fill="#eef7ef"/>
<polygon points="414.8,243.3 417.0,242.4 417.0,244.2 414.9,245.1" fill="#eef7ef"/>
<polygon points="419.6,241.3 421.8,240.4 421.8,242.2 419.6,243.1" fill="#eef7ef"/>
<polygon points="424.4,239.3 426.6,238.4 426.6,240.2 424.4,241.1" fill="#eef7ef"/>
<polygon points="429.2,237.3 431.3,236.4 431.4,238.2 429.2,239.1" fill="#eef7ef"/>
<polygon points="329.1,283.4 331.3,282.5 331.6,284.7 329.4,285.6" fill="#eef7ef"/>
<polygon points="333.9,281.4 336.0,280.5 336.3,282.6 334.2,283.6" fill="#eef7ef"/>
<polygon points="338.7,279.4 340.8,278.5 341.1,280.6 338.9,281.5" fill="#eef7ef"/>
<polygon points="343.4,277.4 345.6,276.5 345.8,278.6 343.7,279.5" fill="#eef7ef"/>
<polygon points="348.2,275.4 350.3,274.5 350.6,276.6 348.4,277.5" fill="#eef7ef"/>
<polygon points="353.0,273.4 355.1,272.5 355.3,274.5 353.2,275.4" fill="#eef7ef"/>
<polygon points="357.7,271.4 359.9,270.4 360.1,272.5 357.9,273.4" fill="#eef7ef"/>
<polygon points="362.5,269.3 364.6,268.4 364.8,270.5 362.7,271.4" fill="#eef7ef"/>
<polygon points="367.3,267.3 369.4,266.4 369.6,268.4 367.4,269.4" fill="#eef7ef"/>
<polygon points="372.0,265.3 374.2,264.4 374.3,266.4 372.2,267.3" fill="#eef7ef"/>
<polygon points="376.8,263.3 378.9,262.4 379.1,264.4 377.0,265.3" fill="#eef7ef"/>
<polygon points="381.6,261.3 383.7,260.4 383.8,262.4 381.7,263.3" fill="#eef7ef"/>
<polygon points="386.3,259.3 388.5,258.4 388.6,260.3 386.5,261.2" fill="#eef7ef"/>
<polygon points="391.1,257.3 393.2,256.3 393.3,258.3 391.2,259.2" fill="#eef7ef"/>
<polygon points="395.9,255.2 398.0,254.3 398.1,256.3 396.0,257.2" fill="#eef7ef"/>
<polygon points="400.6,253.2 402.8,252.3 402.9,254.2 400.7,255.1" fill="#eef7ef"/>
<polygon points="405.4,251.2 407.5,250.3 407.6,252.2 405.5,253.1" fill="#eef7ef"/>
<polygon points="410.2,249.2 412.3,248.3 412.4,250.2 410.2,251.1" fill="#eef7ef"/>
<polygon points="414.9,247.2 417.1,246.3 417.1,248.1 415.0,249.1" fill="#eef7ef"/>
<polygon points="419.7,245.2 421.8,244.3 421.9,246.1 419.7,247.0" fill="#eef7ef"/>
<polygon points="424.5,243.1 426.6,242.2 426.6,244.1 424.5,245.0" fill="#eef7ef"/>
<polygon points="429.2,241.1 431.4,240.2 431.4,242.1 429.2,243.0" fill="#eef7ef"/>
<polygon points="329.7,287.9 331.9,287.0 332.1,289.1 330.0,290.1" fill="#eef7ef"/>
<polygon points="334.5,285.9 336.6,284.9 336.9,287.1 334.7,288.0" fill="#eef7ef"/>
<polygon points="339.2,283.8 341.3,282.9 341.6,285.0 339.5,285.9" fill="#eef7ef"/>
<polygon points="343.9,281.8 346.1,280.9 346.3,282.9 344.2,283.9" fill="#eef7ef"/>
<polygon points="348.7,279.7 350.8,278.8 351.0,280.9 348.9,281.8" fill="#eef7ef"/>
<polygon points="353.4,277.7 355.6,276.8 355.8,278.8 353.6,279.8" fill="#eef7ef"/>
<polygon points="358.2,275.6 360.3,274.7 360.5,276.8 358.4,277.7" fill="#eef7ef"/>
<polygon points="362.9,273.6 365.0,272.7 365.2,274.7 363.1,275.6" fill="#eef7ef"/>
<polygon points="367.6,271.5 369.8,270.6 370.0,272.7 367.8,273.6" fill="#eef7ef"/>
<polygon points="372.4,269.5 374.5,268.6 374.7,270.6 372.6,271.5" fill="#eef7ef"/>
<polygon points="377.1,267.5 379.3,266.5 379.4,268.5 377.3,269.5" fill="#eef7ef"/>
<polygon points="381.9,265.4 384.0,264.5 384.1,266.5 382.0,267.4" fill="#eef7ef"/>
<polygon points="386.6,263.4 388.7,262.5 388.9,264.4 386.7,265.3" fill="#eef7ef"/>
<polygon points="391.3,261.3 393.5,260.4 393.6,262.4 391.5,263.3" fill="#eef7ef"/>
<polygon points="396.1,259.3 398.2,258.4 398.3,260.3 396.2,261.2" fill="#eef7ef"/>
<polygon points="400.8,257.2 402.9,256.3 403.0,258.2 400.9,259.2" fill="#eef7ef"/>
<polygon points="405.6,255.2 407.7,254.3 407.8,256.2 405.6,257.1" fill="#eef7ef"/>
<polygon points="410.3,253.1 412.4,252.2 412.5,254.1 410.4,255.0" fill="#eef7ef"/>
<polygon points="415.0,251.1 417.2,250.2 417.2,252.1 415.1,253.0" fill="#eef7ef"/>
<polygon points="419.8,249.1 421.9,248.1 421.9,250.0 419.8,250.9" fill="#eef7ef"/>
<polygon points="424.5,247.0 426.6,246.1 426.7,247.9 424.5,248.9" fill="#eef7ef"/>
<polygon points="429.2,245.0 431.4,244.0 431.4,245.9 429.3,246.8" fill="#eef7ef"/>
<polygon points="301.7,261.4 411.5,217.6 436.8,227.4 324.0,273.1 316.2,271.3" fill="#d0e8d4"/>
<polyline points="324.0,273.1 436.8,227.4 411.5,217.6" fill="none" stroke="#a5d3af" stroke-width="0.35" stroke-linecap="round" stroke-linejoin="round"/>
<polyline points="315.3,255.9 324.0,273.1 329.9,251.7" fill="none" stroke="#a5d3af" stroke-width="0.35" stroke-linecap="round" stroke-linejoin="round"/>
<polyline points="411.5,217.6 418.3,231.2" fill="none" stroke="#a5d3af" stroke-width="0.3" stroke-linecap="round" stroke-linejoin="round"/>
<polygon points="340.2,298.3 363.9,309.0 367.8,326.5 348.3,317.2 345.4,301.2" fill="#b7dcbf"/>
<polygon points="351.8,309.0 355.1,310.4 355.3,312.3 352.0,311.0" fill="#eef7ef"/>
<polygon points="351.8,313.3 355.1,314.7 355.3,316.6 352.0,315.2" fill="#eef7ef"/>
<polygon points="351.8,317.6 355.1,318.9 355.3,320.9 352.0,319.5" fill="#eef7ef"/>
<polygon points="363.9,309.0 491.2,253.6 490.3,271.1 367.8,326.5" fill="#b7dcbf"/>
<polygon points="368.9,310.1 371.6,309.0 372.1,311.1 369.4,312.2" fill="#eef7ef"/>
<polygon points="375.3,307.3 378.0,306.2 378.4,308.3 375.8,309.4" fill="#eef7ef"/>
<polygon points="381.7,304.5 384.4,303.4 384.8,305.5 382.1,306.6" fill="#eef7ef"/>
<polygon points="388.1,301.7 390.8,300.6 391.2,302.7 388.5,303.8" fill="#eef7ef"/>
<polygon points="394.5,298.9 397.2,297.8 397.5,299.9 394.8,301.0" fill="#eef7ef"/>
<polygon points="400.9,296.1 403.6,295.0 403.9,297.1 401.2,298.2" fill="#eef7ef"/>
<polygon points="407.3,293.3 410.0,292.2 410.2,294.3 407.6,295.4" fill="#eef7ef"/>
<polygon points="413.7,290.5 416.4,289.4 416.6,291.5 413.9,292.6" fill="#eef7ef"/>
<polygon points="420.1,287.7 422.8,286.6 423.0,288.7 420.3,289.8" fill="#eef7ef"/>
<polygon points="426.5,284.9 429.2,283.8 429.3,285.9 426.7,287.0" fill="#eef7ef"/>
<polygon points="432.9,282.1 435.6,281.0 435.7,283.1 433.0,284.2" fill="#eef7ef"/>
<polygon points="439.3,279.3 441.9,278.2 442.1,280.3 439.4,281.4" fill="#eef7ef"/>
<polygon points="445.7,276.5 448.3,275.4 448.4,277.5 445.7,278.6" fill="#eef7ef"/>
<polygon points="452.0,273.7 454.7,272.6 454.8,274.7 452.1,275.8" fill="#eef7ef"/>
<polygon points="458.4,270.9 461.1,269.8 461.1,271.9 458.5,273.0" fill="#eef7ef"/>
<polygon points="464.8,268.1 467.5,267.0 467.5,269.1 464.8,270.2" fill="#eef7ef"/>
<polygon points="471.2,265.3 473.9,264.2 473.9,266.3 471.2,267.4" fill="#eef7ef"/>
<polygon points="477.6,262.5 480.3,261.4 480.2,263.5 477.6,264.6" fill="#eef7ef"/>
<polygon points="484.0,259.7 486.7,258.6 486.6,260.7 483.9,261.8" fill="#eef7ef"/>
<polygon points="369.9,314.8 372.6,313.6 373.0,315.7 370.4,316.9" fill="#eef7ef"/>
<polygon points="376.3,312.0 378.9,310.8 379.3,312.9 376.7,314.1" fill="#eef7ef"/>
<polygon points="382.6,309.2 385.2,308.0 385.6,310.1 383.0,311.3" fill="#eef7ef"/>
<polygon points="388.9,306.4 391.6,305.2 391.9,307.3 389.3,308.5" fill="#eef7ef"/>
<polygon points="395.2,303.6 397.9,302.4 398.2,304.5 395.6,305.7" fill="#eef7ef"/>
<polygon points="401.6,300.8 404.2,299.6 404.5,301.7 401.9,302.9" fill="#eef7ef"/>
<polygon points="407.9,298.0 410.6,296.8 410.8,298.9 408.2,300.1" fill="#eef7ef"/>
<polygon points="414.2,295.2 416.9,294.0 417.1,296.1 414.5,297.3" fill="#eef7ef"/>
<polygon points="420.6,292.4 423.2,291.2 423.4,293.3 420.8,294.5" fill="#eef7ef"/>
<polygon points="426.9,289.6 429.5,288.4 429.7,290.5 427.1,291.7" fill="#eef7ef"/>
<polygon points="433.2,286.8 435.9,285.6 436.0,287.7 433.4,288.9" fill="#eef7ef"/>
<polygon points="439.5,284.0 442.2,282.8 442.3,284.9 439.7,286.1" fill="#eef7ef"/>
<polygon points="445.9,281.2 448.5,280.0 448.6,282.1 446.0,283.3" fill="#eef7ef"/>
<polygon points="452.2,278.4 454.8,277.2 454.9,279.3 452.2,280.5" fill="#eef7ef"/>
<polygon points="458.5,275.6 461.2,274.4 461.2,276.5 458.5,277.7" fill="#eef7ef"/>
<polygon points="464.8,272.8 467.5,271.6 467.5,273.7 464.8,274.9" fill="#eef7ef"/>
<polygon points="471.2,270.0 473.8,268.8 473.8,270.9 471.1,272.1" fill="#eef7ef"/>
<polygon points="477.5,267.2 480.2,266.0 480.1,268.1 477.4,269.3" fill="#eef7ef"/>
<polygon points="483.8,264.4 486.5,263.2 486.4,265.3 483.7,266.5" fill="#eef7ef"/>
<polygon points="370.9,319.5 373.6,318.3 374.0,320.4 371.4,321.6" fill="#eef7ef"/>
<polygon points="377.2,316.7 379.8,315.5 380.2,317.6 377.6,318.8" fill="#eef7ef"/>
<polygon points="383.5,313.9 386.1,312.7 386.5,314.8 383.8,316.0" fill="#eef7ef"/>
<polygon points="389.7,311.1 392.3,309.9 392.7,312.0 390.1,313.2" fill="#eef7ef"/>
<polygon points="396.0,308.3 398.6,307.1 398.9,309.2 396.3,310.4" fill="#eef7ef"/>
<polygon points="402.2,305.5 404.9,304.3 405.2,306.4 402.5,307.6" fill="#eef7ef"/>
<polygon points="408.5,302.7 411.1,301.5 411.4,303.6 408.8,304.8" fill="#eef7ef"/>
<polygon points="414.8,299.9 417.4,298.7 417.6,300.8 415.0,302.0" fill="#eef7ef"/>
<polygon points="421.0,297.1 423.6,295.9 423.8,298.0 421.2,299.2" fill="#eef7ef"/>
<polygon points="427.3,294.3 429.9,293.1 430.1,295.2 427.5,296.4" fill="#eef7ef"/>
<polygon points="433.5,291.5 436.2,290.3 436.3,292.4 433.7,293.6" fill="#eef7ef"/>
<polygon points="439.8,288.7 442.4,287.5 442.5,289.6 439.9,290.8" fill="#eef7ef"/>
<polygon points="446.1,285.9 448.7,284.7 448.8,286.8 446.2,288.0" fill="#eef7ef"/>
<polygon points="452.3,283.1 455.0,281.9 455.0,284.0 452.4,285.2" fill="#eef7ef"/>
<polygon points="458.6,280.3 461.2,279.1 461.2,281.2 458.6,282.4" fill="#eef7ef"/>
<polygon points="464.8,277.5 467.5,276.3 467.5,278.4 464.9,279.6" fill="#eef7ef"/>
<polygon points="471.1,274.7 473.7,273.5 473.7,275.6 471.1,276.8" fill="#eef7ef"/>
<polygon points="477.4,271.9 480.0,270.7 479.9,272.8 477.3,274.0" fill="#eef7ef"/>
<polygon points="483.6,269.1 486.3,267.9 486.2,270.0 483.5,271.2" fill="#eef7ef"/>
<polygon points="340.2,298.3 467.9,243.5 492.2,252.6 363.9,309.0" fill="#d0e8d4"/>
<polyline points="340.2,298.3 363.9,309.0 492.2,252.6" fill="none" stroke="#a5d3af" stroke-width="0.35" stroke-linecap="round" stroke-linejoin="round"/>
<polyline points="368.7,289.6 363.9,309.0" fill="none" stroke="#a5d3af" stroke-width="0.35" stroke-linecap="round" stroke-linejoin="round"/>
<polyline points="467.9,243.5 471.8,261.8" fill="none" stroke="#a5d3af" stroke-width="0.3" stroke-linecap="round" stroke-linejoin="round"/>
<polygon points="243.7,420.3 267.1,435.4 270.0,449.4 246.7,430.4" fill="#b7dcbf"/>
<polygon points="247.1,425.1 249.2,426.6 249.7,428.4 247.6,426.9" fill="#eef7ef"/>
<polygon points="252.3,428.8 254.4,430.2 254.9,432.2 252.8,430.7" fill="#eef7ef"/>
<polygon points="257.6,432.4 259.7,433.9 260.2,435.9 258.1,434.4" fill="#eef7ef"/>
<polygon points="262.8,436.0 264.9,437.5 265.4,439.7 263.3,438.2" fill="#eef7ef"/>
<polygon points="248.1,429.0 250.2,430.6 250.7,432.4 248.6,430.7" fill="#eef7ef"/>
<polygon points="253.4,433.0 255.5,434.5 256.0,436.5 253.9,434.8" fill="#eef7ef"/>
<polygon points="258.6,436.9 260.7,438.5 261.2,440.6 259.1,439.0" fill="#eef7ef"/>
<polygon points="263.9,440.9 266.0,442.5 266.5,444.7 264.4,443.1" fill="#eef7ef"/>
<polygon points="267.1,435.4 304.0,420.3 304.6,433.9 270.0,449.4" fill="#b7dcbf"/>
<polygon points="270.6,437.3 279.4,433.6 279.8,436.4 271.2,440.1" fill="#e3f2e5" stroke="#eef7ef" stroke-width="0.5" stroke-linejoin="round"/>
<polygon points="292.5,428.2 300.5,424.8 300.7,427.5 292.8,430.9" fill="#e3f2e5" stroke="#eef7ef" stroke-width="0.5" stroke-linejoin="round"/>
<polygon points="271.7,442.9 280.2,439.2 280.7,442.0 272.3,445.7" fill="#e3f2e5" stroke="#eef7ef" stroke-width="0.5" stroke-linejoin="round"/>
<polygon points="293.0,433.6 300.8,430.3 301.0,433.0 293.3,436.4" fill="#e3f2e5" stroke="#eef7ef" stroke-width="0.5" stroke-linejoin="round"/>
<polygon points="243.7,420.3 271.9,403.2 293.3,410.6 303.1,416.4 304.6,420.7 267.1,435.4" fill="#b7dcbf"/>
<polyline points="243.7,420.3 267.1,435.4 304.0,420.3" fill="none" stroke="#a5d3af" stroke-width="0.4" stroke-linecap="round" stroke-linejoin="round"/>
<polyline points="267.1,435.4 270.0,449.4" fill="none" stroke="#a5d3af" stroke-width="0.4" stroke-linecap="round" stroke-linejoin="round"/>
<polygon points="371.1,344.4 393.5,334.3 416.8,346.8 417.8,359.6 405.1,366.4 399.3,366.2" fill="#b7dcbf"/>
<polyline points="400.3,356.1 416.8,346.8" fill="none" stroke="#a5d3af" stroke-width="0.4" stroke-linecap="round" stroke-linejoin="round"/>
<polyline points="400.3,356.1 371.1,344.4" fill="none" stroke="#a5d3af" stroke-width="0.3" stroke-linecap="round" stroke-linejoin="round"/>
<polygon points="406.8,353.7 415.2,349.4 415.4,352.1 406.9,356.4" fill="none"/>
<polygon points="407.0,359.1 415.5,354.8 415.7,357.4 407.1,361.8" fill="none"/>
<polygon points="406.5,353.8 415.8,349.1 416.0,351.8 406.7,356.5" fill="#e3f2e5" stroke="#eef7ef" stroke-width="0.5" stroke-linejoin="round"/>
<polygon points="406.5,359.2 415.8,354.6 416.0,357.3 406.7,361.9" fill="#e3f2e5" stroke="#eef7ef" stroke-width="0.5" stroke-linejoin="round"/>
<polygon points="293.3,415.4 399.3,366.2 399.3,373.6 371.1,386.2 371.1,396.0 305.0,427.1 303.1,416.4" fill="#b7dcbf"/>
<polygon points="307.3,412.1 316.1,408.1 316.1,411.4 307.3,415.4" fill="#e3f2e5" stroke="#eef7ef" stroke-width="0.5" stroke-linejoin="round"/>
<polygon points="307.3,419.5 316.1,415.5 316.1,418.8 307.3,422.8" fill="#e3f2e5" stroke="#eef7ef" stroke-width="0.5" stroke-linejoin="round"/>
<polygon points="320.6,405.7 334.2,399.4 334.2,402.7 320.6,409.0" fill="#e3f2e5" stroke="#eef7ef" stroke-width="0.5" stroke-linejoin="round"/>
<polygon points="320.6,413.1 334.2,406.8 334.2,410.1 320.6,416.4" fill="#e3f2e5" stroke="#eef7ef" stroke-width="0.5" stroke-linejoin="round"/>
<polygon points="338.1,397.3 351.7,391.1 351.7,394.4 338.1,400.6" fill="#e3f2e5" stroke="#eef7ef" stroke-width="0.5" stroke-linejoin="round"/>
<polygon points="338.1,404.7 351.7,398.5 351.7,401.8 338.1,408.0" fill="#e3f2e5" stroke="#eef7ef" stroke-width="0.5" stroke-linejoin="round"/>
<polygon points="354.6,389.2 368.2,382.9 368.2,386.2 354.6,392.5" fill="#e3f2e5" stroke="#eef7ef" stroke-width="0.5" stroke-linejoin="round"/>
<polygon points="354.6,396.6 368.2,390.3 368.2,393.6 354.6,399.9" fill="#e3f2e5" stroke="#eef7ef" stroke-width="0.5" stroke-linejoin="round"/>
<polygon points="372.1,381.4 378.9,378.3 378.9,381.2 372.1,384.3" fill="#e3f2e5" stroke="#eef7ef" stroke-width="0.5" stroke-linejoin="round"/>
<polygon points="381.8,377.1 388.6,374.0 388.6,376.9 381.8,380.0" fill="#e3f2e5" stroke="#eef7ef" stroke-width="0.5" stroke-linejoin="round"/>
<polygon points="391.5,372.6 397.7,369.8 397.7,372.7 391.5,375.6" fill="#e3f2e5" stroke="#eef7ef" stroke-width="0.5" stroke-linejoin="round"/>
<polygon points="370.7,383.3 399.3,370.1 400.3,373.6 380.4,387.6 379.9,399.9 372.1,396.0" fill="#b7dcbf"/>
<polygon points="372.1,384.3 379.9,387.6 384.7,393.4 411.0,382.4 412.3,390.1 385.7,402.8 380.4,399.9 373.1,396.0" fill="#b7dcbf"/>
<polygon points="386.7,396.6 410.0,386.2 410.2,389.2 386.9,399.7" fill="#e3f2e5" stroke="#eef7ef" stroke-width="0.5" stroke-linejoin="round"/>
<polygon points="380.4,387.6 399.9,371.1 417.8,378.5 411.0,382.4 384.7,393.4" fill="#d0e8d4" stroke="#a5d3af" stroke-width="0.35" stroke-linejoin="round"/>
<polygon points="265.1,397.9 374.0,345.8 403.2,361.0 399.3,366.2 293.3,415.4" fill="#d0e8d4"/>
<polyline points="265.1,397.9 293.3,415.4 399.3,366.2" fill="none" stroke="#a5d3af" stroke-width="0.35" stroke-linecap="round" stroke-linejoin="round"/>
<polyline points="265.1,397.9 299.2,387.2 293.3,415.4" fill="none" stroke="#a5d3af" stroke-width="0.35" stroke-linecap="round" stroke-linejoin="round"/>
<polyline points="299.2,387.2 369.2,354.2 403.2,361.0" fill="none" stroke="#a5d3af" stroke-width="0.35" stroke-linecap="round" stroke-linejoin="round"/>
<polyline points="369.2,354.2 374.0,345.8" fill="none" stroke="#a5d3af" stroke-width="0.35" stroke-linecap="round" stroke-linejoin="round"/>
<polygon points="300.7,462.2 325.6,482.9 328.9,496.2 303.8,474.4" fill="#b7dcbf"/>
<polygon points="304.3,468.2 306.5,470.0 307.0,472.0 304.8,470.1" fill="#eef7ef"/>
<polygon points="309.9,472.9 312.1,474.8 312.6,476.8 310.4,474.9" fill="#eef7ef"/>
<polygon points="315.4,477.6 317.7,479.5 318.2,481.6 316.0,479.6" fill="#eef7ef"/>
<polygon points="321.0,482.3 323.2,484.2 323.8,486.4 321.5,484.4" fill="#eef7ef"/>
<polygon points="305.4,472.4 307.7,474.3 308.2,476.3 305.9,474.3" fill="#eef7ef"/>
<polygon points="311.0,477.3 313.3,479.2 313.8,481.2 311.5,479.2" fill="#eef7ef"/>
<polygon points="316.6,482.1 318.8,484.1 319.4,486.2 317.1,484.2" fill="#eef7ef"/>
<polygon points="322.2,487.0 324.4,489.0 325.0,491.1 322.7,489.1" fill="#eef7ef"/>
<polygon points="325.6,482.9 361.6,465.1 362.9,476.2 328.9,496.2" fill="#b7dcbf"/>
<polygon points="329.1,484.1 339.0,479.0 339.6,481.8 329.8,487.0" fill="#e3f2e5" stroke="#eef7ef" stroke-width="0.5" stroke-linejoin="round"/>
<polygon points="345.8,475.5 356.5,470.1 356.8,472.6 346.3,478.2" fill="#e3f2e5" stroke="#eef7ef" stroke-width="0.5" stroke-linejoin="round"/>
<polygon points="330.3,489.4 340.1,484.0 340.7,486.8 331.0,492.3" fill="#e3f2e5" stroke="#eef7ef" stroke-width="0.5" stroke-linejoin="round"/>
<polygon points="346.7,480.4 357.1,474.6 357.5,477.2 347.2,483.0" fill="#e3f2e5" stroke="#eef7ef" stroke-width="0.5" stroke-linejoin="round"/>
<polygon points="300.7,462.2 329.6,444.4 357.8,457.8 363.3,471.1 325.6,482.9" fill="#b7dcbf"/>
<polyline points="300.7,462.2 325.6,482.9 361.6,465.1" fill="none" stroke="#a5d3af" stroke-width="0.4" stroke-linecap="round" stroke-linejoin="round"/>
<polyline points="325.6,482.9 328.9,496.2" fill="none" stroke="#a5d3af" stroke-width="0.4" stroke-linecap="round" stroke-linejoin="round"/>
<polygon points="357.8,460.0 437.8,420.7 439.3,436.7 432.2,446.7 385.6,469.3 363.3,471.8 360.0,463.3" fill="#b7dcbf"/>
<polygon points="377.1,455.1 390.9,448.4 390.9,452.2 377.1,458.9" fill="#e3f2e5" stroke="#eef7ef" stroke-width="0.5" stroke-linejoin="round"/>
<polygon points="377.1,462.9 390.9,456.2 390.9,460.0 377.1,466.7" fill="#e3f2e5" stroke="#eef7ef" stroke-width="0.5" stroke-linejoin="round"/>
<polygon points="396.2,445.6 410.0,438.9 410.0,442.7 396.2,449.3" fill="#e3f2e5" stroke="#eef7ef" stroke-width="0.5" stroke-linejoin="round"/>
<polygon points="396.2,453.3 410.0,446.7 410.0,450.4 396.2,457.1" fill="#e3f2e5" stroke="#eef7ef" stroke-width="0.5" stroke-linejoin="round"/>
<polygon points="414.0,436.7 427.8,430.0 427.8,433.8 414.0,440.4" fill="#e3f2e5" stroke="#eef7ef" stroke-width="0.5" stroke-linejoin="round"/>
<polygon points="414.0,444.4 427.8,437.8 427.8,441.6 414.0,448.2" fill="#e3f2e5" stroke="#eef7ef" stroke-width="0.5" stroke-linejoin="round"/>
<polygon points="365.2,459.3 367.2,458.3 367.2,459.4 365.2,460.4" fill="none"/>
<polygon points="368.5,457.7 370.5,456.8 370.6,457.8 368.6,458.8" fill="none"/>
<polygon points="365.3,461.4 367.3,460.5 367.4,461.5 365.4,462.5" fill="none"/>
<polygon points="368.7,459.8 370.7,458.9 370.7,459.9 368.7,460.9" fill="none"/>
<polygon points="365.5,463.5 367.5,462.6 367.6,463.6 365.6,464.6" fill="none"/>
<polygon points="368.8,461.9 370.8,461.0 370.9,462.0 368.9,463.0" fill="none"/>
<polygon points="365.6,465.7 367.6,464.7 367.7,465.7 365.7,466.7" fill="none"/>
<polygon points="369.0,464.0 371.0,463.0 371.1,464.1 369.1,465.1" fill="none"/>
<polygon points="365.1,459.3 370.9,456.7 370.9,457.8 365.1,460.4" fill="none" stroke="#eef7ef" stroke-width="0.4" stroke-linejoin="round"/>
<polygon points="365.1,461.3 370.9,458.7 370.9,459.8 365.1,462.4" fill="none" stroke="#eef7ef" stroke-width="0.4" stroke-linejoin="round"/>
<polygon points="365.1,463.3 370.9,460.7 370.9,461.8 365.1,464.4" fill="none" stroke="#eef7ef" stroke-width="0.4" stroke-linejoin="round"/>
<polygon points="365.1,465.3 370.9,462.7 370.9,463.8 365.1,466.4" fill="none" stroke="#eef7ef" stroke-width="0.4" stroke-linejoin="round"/>
<polygon points="363.3,470.0 375.6,463.3 385.6,468.9 385.6,475.6 373.3,483.3 363.3,477.8" fill="#b7dcbf" stroke="#a5d3af" stroke-width="0.4" stroke-linejoin="round"/>
<polyline points="363.3,470.0 373.3,475.6 385.6,468.9" fill="none" stroke="#a5d3af" stroke-width="0.4" stroke-linecap="round" stroke-linejoin="round"/>
<polyline points="373.3,475.6 373.3,483.3" fill="none" stroke="#a5d3af" stroke-width="0.4" stroke-linecap="round" stroke-linejoin="round"/>
<polygon points="438.4,420.2 471.1,398.9 463.3,391.8 481.6,381.1 510.0,394.9 511.1,410.4 441.1,450.4 440.7,436.7 439.3,428.2" fill="#b7dcbf"/>
<polyline points="438.4,420.2 451.8,426.0 510.0,394.9" fill="none" stroke="#a5d3af" stroke-width="0.4" stroke-linecap="round" stroke-linejoin="round"/>
<polyline points="451.8,426.0 451.1,434.9 440.7,436.7" fill="none" stroke="#a5d3af" stroke-width="0.4" stroke-linecap="round" stroke-linejoin="round"/>
<polygon points="461.1,423.8 470.4,419.1 470.4,422.7 461.1,427.3" fill="#e3f2e5" stroke="#eef7ef" stroke-width="0.5" stroke-linejoin="round"/>
<polygon points="461.1,431.3 470.4,426.7 470.4,430.2 461.1,434.9" fill="#e3f2e5" stroke="#eef7ef" stroke-width="0.5" stroke-linejoin="round"/>
<polygon points="476.7,415.6 486.0,410.9 486.0,414.4 476.7,419.1" fill="#e3f2e5" stroke="#eef7ef" stroke-width="0.5" stroke-linejoin="round"/>
<polygon points="476.7,423.1 486.0,418.4 486.0,422.0 476.7,426.7" fill="#e3f2e5" stroke="#eef7ef" stroke-width="0.5" stroke-linejoin="round"/>
<polygon points="491.1,407.8 500.4,403.1 500.4,406.7 491.1,411.3" fill="#e3f2e5" stroke="#eef7ef" stroke-width="0.5" stroke-linejoin="round"/>
<polygon points="491.1,415.3 500.4,410.7 500.4,414.2 491.1,418.9" fill="#e3f2e5" stroke="#eef7ef" stroke-width="0.5" stroke-linejoin="round"/>
<ellipse cx="441.1" cy="424.4" rx="1.1" ry="1.8" fill="#eef7ef"/>
<ellipse cx="448.2" cy="429.6" rx="1.1" ry="1.8" fill="#eef7ef"/>
<polygon points="327.3,440.0 440.0,380.0 472.2,398.4 437.8,420.7 357.8,460.0" fill="#d0e8d4"/>
<polyline points="327.3,440.0 357.8,460.0 437.8,420.7" fill="none" stroke="#a5d3af" stroke-width="0.35" stroke-linecap="round" stroke-linejoin="round"/>
<polyline points="327.3,440.0 366.7,426.7 357.8,460.0" fill="none" stroke="#a5d3af" stroke-width="0.35" stroke-linecap="round" stroke-linejoin="round"/>
<polyline points="366.7,426.7 434.4,392.2 472.2,398.4" fill="none" stroke="#a5d3af" stroke-width="0.35" stroke-linecap="round" stroke-linejoin="round"/>
<polyline points="434.4,392.2 440.0,380.0" fill="none" stroke="#a5d3af" stroke-width="0.35" stroke-linecap="round" stroke-linejoin="round"/>
<polygon points="529.3,288.5 547.8,277.4 576.6,289.1 556.5,300.1" fill="#d0e8d4" stroke="#a5d3af" stroke-width="0.3" stroke-linejoin="round"/>
<polyline points="542.9,289.4 558.5,281.3" fill="none" stroke="#a5d3af" stroke-width="0.5" stroke-linecap="round" stroke-linejoin="round"/>
<polyline points="558.5,281.3 558.5,279.3" fill="none" stroke="#a5d3af" stroke-width="0.5" stroke-linecap="round" stroke-linejoin="round"/>
<polygon points="498.2,376.6 529.3,386.7 532.6,404.2 499.2,389.6" fill="#b7dcbf"/>
<polygon points="502.3,380.9 505.1,381.9 505.2,383.3 502.5,382.3" fill="#eef7ef"/>
<polygon points="509.2,383.3 511.9,384.2 512.1,385.8 509.3,384.8" fill="#eef7ef"/>
<polygon points="516.0,385.6 518.7,386.6 518.9,388.2 516.2,387.2" fill="#eef7ef"/>
<polygon points="522.8,388.0 525.6,388.9 525.8,390.7 523.1,389.7" fill="#eef7ef"/>
<polygon points="502.6,384.0 505.4,385.1 505.6,386.5 502.8,385.4" fill="#eef7ef"/>
<polygon points="509.5,386.6 512.3,387.7 512.5,389.2 509.7,388.1" fill="#eef7ef"/>
<polygon points="516.5,389.2 519.2,390.3 519.4,391.9 516.7,390.8" fill="#eef7ef"/>
<polygon points="523.4,391.8 526.1,392.9 526.4,394.6 523.6,393.6" fill="#eef7ef"/>
<polygon points="502.9,387.1 505.7,388.3 505.9,389.7 503.1,388.5" fill="#eef7ef"/>
<polygon points="509.9,390.0 512.7,391.1 512.9,392.7 510.1,391.5" fill="#eef7ef"/>
<polygon points="516.9,392.8 519.7,394.0 519.9,395.6 517.1,394.4" fill="#eef7ef"/>
<polygon points="523.9,395.7 526.7,396.8 526.9,398.6 524.1,397.4" fill="#eef7ef"/>
<polygon points="529.3,386.7 576.0,359.4 576.0,365.3 584.7,361.4 584.7,369.6 576.0,375.0 576.6,378.9 532.6,404.2" fill="#b7dcbf"/>
<polygon points="533.2,386.7 541.0,382.4 541.0,385.7 533.2,390.0" fill="#e3f2e5" stroke="#eef7ef" stroke-width="0.5" stroke-linejoin="round"/>
<polygon points="533.2,393.1 541.0,388.8 541.0,392.1 533.2,396.4" fill="#e3f2e5" stroke="#eef7ef" stroke-width="0.5" stroke-linejoin="round"/>
<polygon points="546.8,378.9 554.6,374.6 554.6,377.9 546.8,382.2" fill="#e3f2e5" stroke="#eef7ef" stroke-width="0.5" stroke-linejoin="round"/>
<polygon points="546.8,385.3 554.6,381.0 554.6,384.3 546.8,388.6" fill="#e3f2e5" stroke="#eef7ef" stroke-width="0.5" stroke-linejoin="round"/>
<polygon points="559.8,371.1 567.6,366.8 567.6,370.1 559.8,374.4" fill="#e3f2e5" stroke="#eef7ef" stroke-width="0.5" stroke-linejoin="round"/>
<polygon points="559.8,377.5 567.6,373.2 567.6,376.6 559.8,380.8" fill="#e3f2e5" stroke="#eef7ef" stroke-width="0.5" stroke-linejoin="round"/>
<polygon points="498.2,376.6 518.6,365.3 534.2,366.2 567.2,353.6 576.0,359.4 529.3,386.7" fill="#b7dcbf"/>
<polyline points="498.2,376.6 529.3,386.7 576.0,359.4" fill="none" stroke="#a5d3af" stroke-width="0.4" stroke-linecap="round" stroke-linejoin="round"/>
<polyline points="529.3,386.7 532.6,404.2" fill="none" stroke="#a5d3af" stroke-width="0.4" stroke-linecap="round" stroke-linejoin="round"/>
<polyline points="576.0,359.4 576.0,375.0" fill="none" stroke="#a5d3af" stroke-width="0.4" stroke-linecap="round" stroke-linejoin="round"/>
<polygon points="494.3,357.5 506.0,351.7 516.7,356.5 516.7,363.3 511.8,367.6 499.2,363.3" fill="#b7dcbf" stroke="#a5d3af" stroke-width="0.35" stroke-linejoin="round"/>
<polyline points="497.2,359.1 509.9,364.3 516.7,359.4" fill="none" stroke="#a5d3af" stroke-width="0.35" stroke-linecap="round" stroke-linejoin="round"/>
<polyline points="499.2,360.6 510.4,365.7" fill="none" stroke="#eef7ef" stroke-width="0.6" stroke-linecap="round" stroke-linejoin="round"/>
<polygon points="534.2,366.2 613.9,320.9 614.9,333.2 575.0,359.8 537.1,371.5" fill="#b7dcbf"/>
<polygon points="571.1,351.7 581.2,345.8 581.2,348.9 571.1,354.8" fill="#e3f2e5" stroke="#eef7ef" stroke-width="0.5" stroke-linejoin="round"/>
<polygon points="571.1,357.5 581.2,351.7 581.2,354.8 571.1,360.6" fill="#e3f2e5" stroke="#eef7ef" stroke-width="0.5" stroke-linejoin="round"/>
<polygon points="584.7,343.9 594.8,338.1 594.8,341.2 584.7,347.0" fill="#e3f2e5" stroke="#eef7ef" stroke-width="0.5" stroke-linejoin="round"/>
<polygon points="584.7,349.7 594.8,343.9 594.8,347.0 584.7,352.8" fill="#e3f2e5" stroke="#eef7ef" stroke-width="0.5" stroke-linejoin="round"/>
<polygon points="597.4,336.1 607.5,330.3 607.5,333.4 597.4,339.2" fill="#e3f2e5" stroke="#eef7ef" stroke-width="0.5" stroke-linejoin="round"/>
<polygon points="597.4,341.9 607.5,336.1 607.5,339.2 597.4,345.1" fill="#e3f2e5" stroke="#eef7ef" stroke-width="0.5" stroke-linejoin="round"/>
<polygon points="589.6,304.0 596.4,305.4 608.4,299.6 635.7,309.9 636.2,322.9 623.6,329.3 614.9,333.2 613.9,320.9 620.7,316.7" fill="#b7dcbf"/>
<polyline points="596.4,305.4 620.7,317.6 635.7,309.9" fill="none" stroke="#a5d3af" stroke-width="0.4" stroke-linecap="round" stroke-linejoin="round"/>
<polygon points="626.5,316.7 634.3,312.8 634.5,315.9 626.7,319.8" fill="#e3f2e5" stroke="#eef7ef" stroke-width="0.5" stroke-linejoin="round"/>
<polygon points="616.8,322.1 623.6,318.6 623.8,321.3 617.0,324.8" fill="#e3f2e5" stroke="#eef7ef" stroke-width="0.5" stroke-linejoin="round"/>
<polygon points="626.5,322.9 634.3,319.0 634.5,322.1 626.7,326.0" fill="#e3f2e5" stroke="#eef7ef" stroke-width="0.5" stroke-linejoin="round"/>
<polygon points="616.8,327.9 623.6,324.4 623.8,327.2 617.0,330.7" fill="#e3f2e5" stroke="#eef7ef" stroke-width="0.5" stroke-linejoin="round"/>
<polygon points="610.0,325.4 614.3,323.3 614.5,330.3 610.2,332.4" fill="#e3f2e5" stroke="#eef7ef" stroke-width="0.5" stroke-linejoin="round"/>
<polygon points="610.0,334.2 617.8,330.7 625.6,333.8 625.6,341.0 618.2,345.4 610.0,341.6" fill="#b7dcbf" stroke="#a5d3af" stroke-width="0.4" stroke-linejoin="round"/>
<polyline points="610.0,334.2 618.2,337.7 625.6,333.8" fill="none" stroke="#a5d3af" stroke-width="0.4" stroke-linecap="round" stroke-linejoin="round"/>
<polyline points="618.2,337.7 618.2,345.4" fill="none" stroke="#a5d3af" stroke-width="0.4" stroke-linecap="round" stroke-linejoin="round"/>
<polygon points="504.6,349.7 589.6,304.0 620.7,316.7 613.9,320.9 534.2,366.2" fill="#d0e8d4"/>
<polyline points="504.6,349.7 534.2,366.2 613.9,320.9" fill="none" stroke="#a5d3af" stroke-width="0.35" stroke-linecap="round" stroke-linejoin="round"/>
<polyline points="504.6,349.7 538.1,339.0 534.2,366.2" fill="none" stroke="#a5d3af" stroke-width="0.35" stroke-linecap="round" stroke-linejoin="round"/>
<polyline points="538.1,339.0 586.7,311.8 620.7,316.7" fill="none" stroke="#a5d3af" stroke-width="0.35" stroke-linecap="round" stroke-linejoin="round"/>
<polyline points="586.7,311.8 589.6,304.0" fill="none" stroke="#a5d3af" stroke-width="0.35" stroke-linecap="round" stroke-linejoin="round"/>
<path d="M112,503 L198.5,590 L271,545.5" fill="none" stroke="#a5d3af" stroke-width="0.6" stroke-linejoin="round" stroke-linecap="round"/>
<path d="M205,581 l2.5,10 M261,548.5 l2.5,10" fill="none" stroke="#b7dcbf" stroke-width="2" stroke-linejoin="round" stroke-linecap="round"/>
<polygon points="170.0,460.0 109.0,495.0 197.5,585.5 270.0,540.0" fill="#d0e8d4" stroke="#a5d3af" stroke-width="0.5" stroke-linejoin="round"/>
<polyline points="170.0,460.0 155.0,488.5 109.0,495.0" fill="none" stroke="#a5d3af" stroke-width="0.4" stroke-linecap="round" stroke-linejoin="round"/>
<polyline points="155.0,488.5 217.5,546.0 197.5,585.5" fill="none" stroke="#a5d3af" stroke-width="0.4" stroke-linecap="round" stroke-linejoin="round"/>
<polyline points="217.5,546.0 270.0,540.0" fill="none" stroke="#a5d3af" stroke-width="0.4" stroke-linecap="round" stroke-linejoin="round"/>
<path d="M479.4,299.9 v5.5 M487.6,303.7 v5.5 M500.7,298.0 v5" fill="none" stroke="#b7dcbf" stroke-width="0.8" stroke-linejoin="round" stroke-linecap="round"/>
<polygon points="479.4,299.7 492.8,294.2 500.5,297.8 487.6,303.5" fill="#b7dcbf" stroke="#a5d3af" stroke-width="0.3" stroke-linejoin="round"/>
<polygon points="478.4,322.3 488.0,326.9 496.7,322.3 496.9,328.0 488.5,333.0 478.9,328.5" fill="#b7dcbf"/>
<polygon points="477.0,321.8 488.0,315.5 497.6,320.3 488.0,326.3" fill="#d0e8d4" stroke="#a5d3af" stroke-width="0.35" stroke-linejoin="round"/>
<polyline points="488.0,315.5 488.0,326.3" fill="none" stroke="#a5d3af" stroke-width="0.3" stroke-linecap="round" stroke-linejoin="round"/>
<polyline points="488.0,326.9 488.5,333.0" fill="none" stroke="#a5d3af" stroke-width="0.3" stroke-linecap="round" stroke-linejoin="round"/>
<polygon points="480.8,326.1 484.7,327.8 484.8,330.9 480.9,329.2" fill="none" stroke="#eef7ef" stroke-width="0.4" stroke-linejoin="round"/>
<polygon points="448.2,347.2 471.7,334.8 484.7,340.5 460.2,354.0" fill="#eef6ef" stroke="#b7dcbf" stroke-width="0.5" stroke-linejoin="round"/>
<polygon points="450.8,347.7 472.2,336.7 482.1,341.0 460.7,352.3" fill="#b7dcbf"/>
<ellipse cx="527.6" cy="317" rx="6" ry="3.5" fill="#e4f2e6" stroke="#b7dcbf" stroke-width="0.6"/>
<ellipse cx="527.6" cy="316.6" rx="3.8" ry="2" fill="none" stroke="#b7dcbf" stroke-width="0.5"/>
<polyline points="366.0,563.8 384.0,561.8 396.0,548.8 402.5,556.8 412.5,546.8 425.0,535.8 432.5,544.3 445.0,534.3 450.0,527.8 457.5,523.8 470.0,529.3 482.5,518.8 492.5,509.8 505.0,514.3 517.5,501.8 522.5,497.3 530.0,502.8 540.0,492.3 548.0,488.3 555.0,486.8 566.2,475.8 572.3,481.3 580.5,475.3 588.0,463.8 604.0,451.8 614.0,457.8 636.5,441.8 642.6,445.8 654.8,434.8 661.0,432.6 676.2,421.6 682.3,425.6 689.4,416.8 695.6,409.8 705.7,408.8 716.0,400.3 720.0,404.0 728.2,397.0 731.2,391.3 742.4,390.8 753.6,382.8 758.7,384.8 763.0,376.8 757.0,369.8" fill="none" stroke="#b7dcbf" stroke-width="6" stroke-linejoin="miter"/>
<polyline points="366.0,561.4 384.0,559.4 396.0,546.4 402.5,554.4 412.5,544.4 425.0,533.4 432.5,541.9 445.0,531.9 450.0,525.4 457.5,521.4 470.0,526.9 482.5,516.4 492.5,507.4 505.0,511.9 517.5,499.4 522.5,494.9 530.0,500.4 540.0,489.9 548.0,485.9 555.0,484.4 566.2,473.4 572.3,478.9 580.5,472.9 588.0,461.4 604.0,449.4 614.0,455.4 636.5,439.4 642.6,443.4 654.8,432.4 661.0,430.2 676.2,419.2 682.3,423.2 689.4,414.4 695.6,407.4 705.7,406.4 716.0,397.9 720.0,401.6 728.2,394.6 731.2,388.9 742.4,388.4 753.6,380.4 758.7,382.4 763.0,374.4 757.0,367.4" fill="none" stroke="#d0e8d4" stroke-width="2.2" stroke-linejoin="miter"/>
<polyline points="366.0,562.6 384.0,560.6 396.0,547.6 402.5,555.6 412.5,545.6 425.0,534.6 432.5,543.1 445.0,533.1 450.0,526.6 457.5,522.6 470.0,528.1 482.5,517.6 492.5,508.6 505.0,513.1 517.5,500.6 522.5,496.1 530.0,501.6 540.0,491.1 548.0,487.1 555.0,485.6 566.2,474.6 572.3,480.1 580.5,474.1 588.0,462.6 604.0,450.6 614.0,456.6 636.5,440.6 642.6,444.6 654.8,433.6 661.0,431.4 676.2,420.4 682.3,424.4 689.4,415.6 695.6,408.6 705.7,407.6 716.0,399.1 720.0,402.8 728.2,395.8 731.2,390.1 742.4,389.6 753.6,381.6 758.7,383.6 763.0,375.6 757.0,368.6" fill="none" stroke="#a5d3af" stroke-width="0.35" stroke-linejoin="miter"/>
<polygon points="362.5,560.5 371.0,551.5 384.0,561.5 375.0,573.5" fill="#b7dcbf" stroke="#a5d3af" stroke-width="0.3" stroke-linejoin="round"/>
<polygon points="744.9,362.6 752.6,371.2 754.1,380.3 746.4,370.6" fill="#b7dcbf"/>
<polygon points="752.6,371.2 763.3,364.5 764.1,372.5 754.1,380.3" fill="#b7dcbf"/>
<polyline points="752.6,371.2 754.1,380.3" fill="none" stroke="#a5d3af" stroke-width="0.3" stroke-linecap="round" stroke-linejoin="round"/>
<polygon points="744.9,362.6 754.6,356.8 763.3,364.5 752.6,371.2" fill="#d0e8d4" stroke="#a5d3af" stroke-width="0.35" stroke-linejoin="round"/>
<polyline points="753.9,363.7 744.9,362.6" fill="none" stroke="#a5d3af" stroke-width="0.3" stroke-linecap="round" stroke-linejoin="round"/>
<polyline points="753.9,363.7 754.6,356.8" fill="none" stroke="#a5d3af" stroke-width="0.3" stroke-linecap="round" stroke-linejoin="round"/>
<polyline points="753.9,363.7 763.3,364.5" fill="none" stroke="#a5d3af" stroke-width="0.3" stroke-linecap="round" stroke-linejoin="round"/>
<polyline points="753.9,363.7 752.6,371.2" fill="none" stroke="#a5d3af" stroke-width="0.3" stroke-linecap="round" stroke-linejoin="round"/>
<polygon points="722.5,383.9 730.2,392.5 731.8,401.6 724.0,391.9" fill="#b7dcbf"/>
<polygon points="730.2,392.5 740.9,385.8 741.7,393.8 731.8,401.6" fill="#b7dcbf"/>
<polyline points="730.2,392.5 731.8,401.6" fill="none" stroke="#a5d3af" stroke-width="0.3" stroke-linecap="round" stroke-linejoin="round"/>
<polygon points="722.5,383.9 732.2,378.1 740.9,385.8 730.2,392.5" fill="#d0e8d4" stroke="#a5d3af" stroke-width="0.35" stroke-linejoin="round"/>
<polyline points="731.5,385.0 722.5,383.9" fill="none" stroke="#a5d3af" stroke-width="0.3" stroke-linecap="round" stroke-linejoin="round"/>
<polyline points="731.5,385.0 732.2,378.1" fill="none" stroke="#a5d3af" stroke-width="0.3" stroke-linecap="round" stroke-linejoin="round"/>
<polyline points="731.5,385.0 740.9,385.8" fill="none" stroke="#a5d3af" stroke-width="0.3" stroke-linecap="round" stroke-linejoin="round"/>
<polyline points="731.5,385.0 730.2,392.5" fill="none" stroke="#a5d3af" stroke-width="0.3" stroke-linecap="round" stroke-linejoin="round"/>
<polygon points="686.9,402.6 694.6,411.2 696.1,420.3 688.4,410.6" fill="#b7dcbf"/>
<polygon points="694.6,411.2 705.3,404.5 706.1,412.5 696.1,420.3" fill="#b7dcbf"/>
<polyline points="694.6,411.2 696.1,420.3" fill="none" stroke="#a5d3af" stroke-width="0.3" stroke-linecap="round" stroke-linejoin="round"/>
<polygon points="686.9,402.6 696.6,396.8 705.3,404.5 694.6,411.2" fill="#d0e8d4" stroke="#a5d3af" stroke-width="0.35" stroke-linejoin="round"/>
<polyline points="695.9,403.7 686.9,402.6" fill="none" stroke="#a5d3af" stroke-width="0.3" stroke-linecap="round" stroke-linejoin="round"/>
<polyline points="695.9,403.7 696.6,396.8" fill="none" stroke="#a5d3af" stroke-width="0.3" stroke-linecap="round" stroke-linejoin="round"/>
<polyline points="695.9,403.7 705.3,404.5" fill="none" stroke="#a5d3af" stroke-width="0.3" stroke-linecap="round" stroke-linejoin="round"/>
<polyline points="695.9,403.7 694.6,411.2" fill="none" stroke="#a5d3af" stroke-width="0.3" stroke-linecap="round" stroke-linejoin="round"/>
<polygon points="595.7,444.7 603.1,452.9 604.6,461.4 597.2,452.2" fill="#b7dcbf"/>
<polygon points="603.1,452.9 613.2,446.5 614.0,454.1 604.6,461.4" fill="#b7dcbf"/>
<polyline points="603.1,452.9 604.6,461.4" fill="none" stroke="#a5d3af" stroke-width="0.3" stroke-linecap="round" stroke-linejoin="round"/>
<polygon points="595.7,444.7 604.9,439.2 613.2,446.5 603.1,452.9" fill="#d0e8d4" stroke="#a5d3af" stroke-width="0.35" stroke-linejoin="round"/>
<polyline points="604.3,445.8 595.7,444.7" fill="none" stroke="#a5d3af" stroke-width="0.3" stroke-linecap="round" stroke-linejoin="round"/>
<polyline points="604.3,445.8 604.9,439.2" fill="none" stroke="#a5d3af" stroke-width="0.3" stroke-linecap="round" stroke-linejoin="round"/>
<polyline points="604.3,445.8 613.2,446.5" fill="none" stroke="#a5d3af" stroke-width="0.3" stroke-linecap="round" stroke-linejoin="round"/>
<polyline points="604.3,445.8 603.1,452.9" fill="none" stroke="#a5d3af" stroke-width="0.3" stroke-linecap="round" stroke-linejoin="round"/>
<polygon points="579.3,456.6 587.0,465.2 588.5,474.3 580.8,464.6" fill="#b7dcbf"/>
<polygon points="587.0,465.2 597.7,458.5 598.5,466.5 588.5,474.3" fill="#b7dcbf"/>
<polyline points="587.0,465.2 588.5,474.3" fill="none" stroke="#a5d3af" stroke-width="0.3" stroke-linecap="round" stroke-linejoin="round"/>
<polygon points="579.3,456.6 589.0,450.8 597.7,458.5 587.0,465.2" fill="#d0e8d4" stroke="#a5d3af" stroke-width="0.35" stroke-linejoin="round"/>
<polyline points="588.3,457.7 579.3,456.6" fill="none" stroke="#a5d3af" stroke-width="0.3" stroke-linecap="round" stroke-linejoin="round"/>
<polyline points="588.3,457.7 589.0,450.8" fill="none" stroke="#a5d3af" stroke-width="0.3" stroke-linecap="round" stroke-linejoin="round"/>
<polyline points="588.3,457.7 597.7,458.5" fill="none" stroke="#a5d3af" stroke-width="0.3" stroke-linecap="round" stroke-linejoin="round"/>
<polyline points="588.3,457.7 587.0,465.2" fill="none" stroke="#a5d3af" stroke-width="0.3" stroke-linecap="round" stroke-linejoin="round"/>
<polygon points="483.8,503.1 491.6,511.7 493.1,520.8 485.3,511.1" fill="#b7dcbf"/>
<polygon points="491.6,511.7 502.2,505.0 503.0,513.0 493.1,520.8" fill="#b7dcbf"/>
<polyline points="491.6,511.7 493.1,520.8" fill="none" stroke="#a5d3af" stroke-width="0.3" stroke-linecap="round" stroke-linejoin="round"/>
<polygon points="483.8,503.1 493.4,497.3 502.2,505.0 491.6,511.7" fill="#d0e8d4" stroke="#a5d3af" stroke-width="0.35" stroke-linejoin="round"/>
<polyline points="492.8,504.2 483.8,503.1" fill="none" stroke="#a5d3af" stroke-width="0.3" stroke-linecap="round" stroke-linejoin="round"/>
<polyline points="492.8,504.2 493.4,497.3" fill="none" stroke="#a5d3af" stroke-width="0.3" stroke-linecap="round" stroke-linejoin="round"/>
<polyline points="492.8,504.2 502.2,505.0" fill="none" stroke="#a5d3af" stroke-width="0.3" stroke-linecap="round" stroke-linejoin="round"/>
<polyline points="492.8,504.2 491.6,511.7" fill="none" stroke="#a5d3af" stroke-width="0.3" stroke-linecap="round" stroke-linejoin="round"/>
<polygon points="448.3,517.0 456.5,526.1 458.0,535.6 449.8,525.5" fill="#b7dcbf"/>
<polygon points="456.5,526.1 467.7,519.0 468.5,527.5 458.0,535.6" fill="#b7dcbf"/>
<polyline points="456.5,526.1 458.0,535.6" fill="none" stroke="#a5d3af" stroke-width="0.3" stroke-linecap="round" stroke-linejoin="round"/>
<polygon points="448.3,517.0 458.5,510.9 467.7,519.0 456.5,526.1" fill="#d0e8d4" stroke="#a5d3af" stroke-width="0.35" stroke-linejoin="round"/>
<polyline points="457.8,518.2 448.3,517.0" fill="none" stroke="#a5d3af" stroke-width="0.3" stroke-linecap="round" stroke-linejoin="round"/>
<polyline points="457.8,518.2 458.5,510.9" fill="none" stroke="#a5d3af" stroke-width="0.3" stroke-linecap="round" stroke-linejoin="round"/>
<polyline points="457.8,518.2 467.7,519.0" fill="none" stroke="#a5d3af" stroke-width="0.3" stroke-linecap="round" stroke-linejoin="round"/>
<polyline points="457.8,518.2 456.5,526.1" fill="none" stroke="#a5d3af" stroke-width="0.3" stroke-linecap="round" stroke-linejoin="round"/>
<polyline points="591.0,452.0 597.0,447.5" fill="none" stroke="#a5d3af" stroke-width="0.5" stroke-linecap="round" stroke-linejoin="round"/>
<polyline points="592.6,453.5 598.6,449.0" fill="none" stroke="#a5d3af" stroke-width="0.5" stroke-linecap="round" stroke-linejoin="round"/>
<polyline points="594.2,455.0 600.2,450.5" fill="none" stroke="#a5d3af" stroke-width="0.5" stroke-linecap="round" stroke-linejoin="round"/>
<polyline points="595.8,456.5 601.8,452.0" fill="none" stroke="#a5d3af" stroke-width="0.5" stroke-linecap="round" stroke-linejoin="round"/>
<polyline points="597.4,458.0 603.4,453.5" fill="none" stroke="#a5d3af" stroke-width="0.5" stroke-linecap="round" stroke-linejoin="round"/>
<ellipse cx="219.9" cy="229.4" rx="17.1" ry="8.6" fill="none" stroke="#131c30" stroke-width="1.1" transform="rotate(-4 219.9 229.4)"/>
<polygon points="191.2,244.3 219.0,228.2 248.6,214.8 220.8,230.6" fill="#131c30"/>
<polygon points="196.3,217.6 220.8,228.4 244.0,241.2 219.0,230.4" fill="#131c30"/>
<text x="254.4" y="214.6" text-anchor="middle" font-family="Liberation Serif, serif" font-style="italic" font-weight="bold" font-size="6.5" fill="#131c30" transform="rotate(-25 254.4 212.6)">N</text>
<text x="186.1" y="249.3" text-anchor="middle" font-family="Liberation Serif, serif" font-style="italic" font-weight="bold" font-size="6.5" fill="#131c30" transform="rotate(-25 186.1 247.3)">S</text>
<text x="190.3" y="216.8" text-anchor="middle" font-family="Liberation Serif, serif" font-style="italic" font-weight="bold" font-size="6.5" fill="#131c30" transform="rotate(-25 190.3 214.8)">W</text>
<text x="248.6" y="245.6" text-anchor="middle" font-family="Liberation Serif, serif" font-style="italic" font-weight="bold" font-size="6.5" fill="#131c30" transform="rotate(-25 248.6 243.6)">E</text>
<path d="M331.4,211.9 Q325,204 319.4,196.6 A17,17 0 1 1 343.6,196.6 Q337.8,204 331.4,211.9 Z" fill="#fff" stroke="#c3e2c9" stroke-width="0.6" stroke-linejoin="round" stroke-linecap="round"/>
<ellipse cx="331.3" cy="189" rx="9.3" ry="18.8" fill="#d3ead7"/>
<ellipse cx="331.3" cy="189" rx="8.2" ry="17.4" fill="none" stroke="#eef7ef" stroke-width="1.6" stroke-dasharray="0.7,0.7"/>
<path d="M327.6,206 L327.2,184 Q327.6,176.5 331.6,173.6 Q335.8,176.5 336.4,184 L336.8,206 Q332,208.5 327.6,206 Z" fill="#a9d5b3"/>
<ellipse cx="331.9" cy="177" rx="1.5" ry="2.2" fill="#e6f3e8"/>
<path d="M330.5,183 l3,2.5 l1.2,3" fill="none" stroke="#d3ead7" stroke-width="0.9" stroke-linejoin="round" stroke-linecap="round"/>
<polyline points="381.0,198.5 382.4,201.7 382.4,204.7" fill="none" stroke="#cdd1d5" stroke-width="0.45" stroke-linecap="round" stroke-linejoin="round"/>
<polyline points="383.4,199.4 384.8,202.6 384.8,205.6" fill="none" stroke="#cdd1d5" stroke-width="0.45" stroke-linecap="round" stroke-linejoin="round"/>
<polyline points="385.9,200.2 387.3,203.4 387.3,206.4" fill="none" stroke="#cdd1d5" stroke-width="0.45" stroke-linecap="round" stroke-linejoin="round"/>
<polyline points="388.4,201.1 389.8,204.3 389.8,207.3" fill="none" stroke="#cdd1d5" stroke-width="0.45" stroke-linecap="round" stroke-linejoin="round"/>
<polyline points="390.8,201.9 392.2,205.1 392.2,208.1" fill="none" stroke="#cdd1d5" stroke-width="0.45" stroke-linecap="round" stroke-linejoin="round"/>
<polyline points="393.2,202.8 394.6,206.0 394.6,209.0" fill="none" stroke="#cdd1d5" stroke-width="0.45" stroke-linecap="round" stroke-linejoin="round"/>
<polyline points="395.7,203.7 397.1,206.9 397.1,209.9" fill="none" stroke="#cdd1d5" stroke-width="0.45" stroke-linecap="round" stroke-linejoin="round"/>
<polyline points="398.1,204.5 399.5,207.7 399.5,210.7" fill="none" stroke="#cdd1d5" stroke-width="0.45" stroke-linecap="round" stroke-linejoin="round"/>
<polyline points="400.6,205.4 402.0,208.6 402.0,211.6" fill="none" stroke="#cdd1d5" stroke-width="0.45" stroke-linecap="round" stroke-linejoin="round"/>
<polyline points="403.1,206.2 404.4,209.4 404.4,212.4" fill="none" stroke="#cdd1d5" stroke-width="0.45" stroke-linecap="round" stroke-linejoin="round"/>
<polyline points="405.5,207.1 406.9,210.3 406.9,213.3" fill="none" stroke="#cdd1d5" stroke-width="0.45" stroke-linecap="round" stroke-linejoin="round"/>
<polyline points="407.9,208.0 409.3,211.2 409.3,214.2" fill="none" stroke="#cdd1d5" stroke-width="0.45" stroke-linecap="round" stroke-linejoin="round"/>
<polyline points="410.4,208.8 411.8,212.0 411.8,215.0" fill="none" stroke="#cdd1d5" stroke-width="0.45" stroke-linecap="round" stroke-linejoin="round"/>
<polyline points="412.9,209.7 414.2,212.9 414.2,215.9" fill="none" stroke="#cdd1d5" stroke-width="0.45" stroke-linecap="round" stroke-linejoin="round"/>
<polyline points="415.3,210.5 416.7,213.7 416.7,216.7" fill="none" stroke="#cdd1d5" stroke-width="0.45" stroke-linecap="round" stroke-linejoin="round"/>
<polyline points="417.8,211.4 419.1,214.6 419.1,217.6" fill="none" stroke="#cdd1d5" stroke-width="0.45" stroke-linecap="round" stroke-linejoin="round"/>
<polyline points="420.2,212.3 421.6,215.5 421.6,218.5" fill="none" stroke="#cdd1d5" stroke-width="0.45" stroke-linecap="round" stroke-linejoin="round"/>
<polyline points="422.6,213.1 424.0,216.3 424.0,219.3" fill="none" stroke="#cdd1d5" stroke-width="0.45" stroke-linecap="round" stroke-linejoin="round"/>
<polyline points="425.1,214.0 426.5,217.2 426.5,220.2" fill="none" stroke="#cdd1d5" stroke-width="0.45" stroke-linecap="round" stroke-linejoin="round"/>
<polyline points="427.6,214.8 428.9,218.0 428.9,221.0" fill="none" stroke="#cdd1d5" stroke-width="0.45" stroke-linecap="round" stroke-linejoin="round"/>
<polyline points="430.0,215.7 431.4,218.9 431.4,221.9" fill="none" stroke="#cdd1d5" stroke-width="0.45" stroke-linecap="round" stroke-linejoin="round"/>
<polyline points="432.4,216.6 433.8,219.8 433.8,222.8" fill="none" stroke="#cdd1d5" stroke-width="0.45" stroke-linecap="round" stroke-linejoin="round"/>
<polyline points="434.9,217.4 436.3,220.6 436.3,223.6" fill="none" stroke="#cdd1d5" stroke-width="0.45" stroke-linecap="round" stroke-linejoin="round"/>
<polyline points="437.4,218.3 438.8,221.5 438.8,224.5" fill="none" stroke="#cdd1d5" stroke-width="0.45" stroke-linecap="round" stroke-linejoin="round"/>
<polyline points="380.0,198.3 438.5,218.6" fill="none" stroke="#cdd1d5" stroke-width="0.5" stroke-linecap="round" stroke-linejoin="round"/>
<polyline points="381.4,201.5 439.9,221.8" fill="none" stroke="#cdd1d5" stroke-width="0.5" stroke-linecap="round" stroke-linejoin="round"/>
<path d="M202.80,297.20 L197.15,290.73 A7.5,7.5 0 1 1 208.45,290.73 Z" fill="#131c30"/>
<text x="202.80" y="290.22" text-anchor="middle" font-family="Liberation Sans, sans-serif" font-size="10.4" font-weight="bold" fill="#fff">1</text>
<path d="M369.10,240.70 L363.45,234.23 A7.5,7.5 0 1 1 374.75,234.23 Z" fill="#131c30"/>
<text x="369.10" y="233.72" text-anchor="middle" font-family="Liberation Sans, sans-serif" font-size="10.4" font-weight="bold" fill="#fff">2</text>
<path d="M406.10,277.60 L400.45,271.13 A7.5,7.5 0 1 1 411.75,271.13 Z" fill="#131c30"/>
<text x="406.10" y="270.62" text-anchor="middle" font-family="Liberation Sans, sans-serif" font-size="10.4" font-weight="bold" fill="#fff">3</text>
<path d="M340.20,370.70 L334.55,364.23 A7.5,7.5 0 1 1 345.85,364.23 Z" fill="#131c30"/>
<text x="340.20" y="363.72" text-anchor="middle" font-family="Liberation Sans, sans-serif" font-size="10.4" font-weight="bold" fill="#fff">4</text>
<path d="M373.30,427.40 L367.65,420.93 A7.5,7.5 0 1 1 378.95,420.93 Z" fill="#131c30"/>
<text x="373.30" y="420.42" text-anchor="middle" font-family="Liberation Sans, sans-serif" font-size="10.4" font-weight="bold" fill="#fff">5</text>
<path d="M523.60,348.20 L517.95,341.73 A7.5,7.5 0 1 1 529.25,341.73 Z" fill="#131c30"/>
<text x="523.60" y="341.22" text-anchor="middle" font-family="Liberation Sans, sans-serif" font-size="10.4" font-weight="bold" fill="#fff">6</text>
<path d="M500.50,332.00 L494.85,325.53 A7.5,7.5 0 1 1 506.15,325.53 Z" fill="#131c30"/>
<text x="500.50" y="325.02" text-anchor="middle" font-family="Liberation Sans, sans-serif" font-size="10.4" font-weight="bold" fill="#fff">8</text>
<path d="M524.70,292.00 L519.05,285.53 A7.5,7.5 0 1 1 530.35,285.53 Z" fill="#131c30"/>
<text x="524.70" y="285.02" text-anchor="middle" font-family="Liberation Sans, sans-serif" font-size="10.4" font-weight="bold" fill="#fff">9</text>
<path d="M213.50,522.50 L207.85,516.03 A7.5,7.5 0 1 1 219.15,516.03 Z" fill="#131c30"/>
<text x="213.50" y="515.52" text-anchor="middle" font-family="Liberation Sans, sans-serif" font-size="10.4" font-weight="bold" fill="#fff" textLength="10.0" lengthAdjust="spacingAndGlyphs">10</text>
<path d="M618.10,438.60 L612.45,432.13 A7.5,7.5 0 1 1 623.75,432.13 Z" fill="#131c30"/>
<text x="618.10" y="431.62" text-anchor="middle" font-family="Liberation Sans, sans-serif" font-size="10.4" font-weight="bold" fill="#fff" textLength="10.0" lengthAdjust="spacingAndGlyphs">11</text>
<path d="M540.80,185.10 L535.15,178.63 A7.5,7.5 0 1 1 546.45,178.63 Z" fill="#131c30"/>
<text x="540.80" y="178.12" text-anchor="middle" font-family="Liberation Sans, sans-serif" font-size="10.4" font-weight="bold" fill="#fff" textLength="10.0" lengthAdjust="spacingAndGlyphs">12</text>
<path d="M725.70,208.50 L720.05,202.03 A7.5,7.5 0 1 1 731.35,202.03 Z" fill="#131c30"/>
<text x="725.70" y="201.52" text-anchor="middle" font-family="Liberation Sans, sans-serif" font-size="10.4" font-weight="bold" fill="#fff" textLength="10.0" lengthAdjust="spacingAndGlyphs">13</text>
<path d="M850.30,241.20 L844.65,234.73 A7.5,7.5 0 1 1 855.95,234.73 Z" fill="#131c30"/>
<text x="850.30" y="234.22" text-anchor="middle" font-family="Liberation Sans, sans-serif" font-size="10.4" font-weight="bold" fill="#fff" textLength="10.0" lengthAdjust="spacingAndGlyphs">14</text>
<path d="M811.80,165.00 L806.15,158.53 A7.5,7.5 0 1 1 817.45,158.53 Z" fill="#131c30"/>
<text x="811.80" y="158.02" text-anchor="middle" font-family="Liberation Sans, sans-serif" font-size="10.4" font-weight="bold" fill="#fff" textLength="10.0" lengthAdjust="spacingAndGlyphs">15</text>
<path d="M672.50,124.60 L666.85,118.13 A7.5,7.5 0 1 1 678.15,118.13 Z" fill="#131c30"/>
<text x="672.50" y="117.62" text-anchor="middle" font-family="Liberation Sans, sans-serif" font-size="10.4" font-weight="bold" fill="#fff" textLength="10.0" lengthAdjust="spacingAndGlyphs">16</text>
<path d="M824.10,89.10 L818.45,82.63 A7.5,7.5 0 1 1 829.75,82.63 Z" fill="#131c30"/>
<text x="824.10" y="82.12" text-anchor="middle" font-family="Liberation Sans, sans-serif" font-size="10.4" font-weight="bold" fill="#fff" textLength="10.0" lengthAdjust="spacingAndGlyphs">17</text>
<path d="M890.20,129.20 L884.55,122.73 A7.5,7.5 0 1 1 895.85,122.73 Z" fill="#131c30"/>
<text x="890.20" y="122.22" text-anchor="middle" font-family="Liberation Sans, sans-serif" font-size="10.4" font-weight="bold" fill="#fff" textLength="10.0" lengthAdjust="spacingAndGlyphs">18</text>
<path d="M919.70,114.70 L914.05,108.23 A7.5,7.5 0 1 1 925.35,108.23 Z" fill="#131c30"/>
<text x="919.70" y="107.72" text-anchor="middle" font-family="Liberation Sans, sans-serif" font-size="10.4" font-weight="bold" fill="#fff" textLength="10.0" lengthAdjust="spacingAndGlyphs">19</text>
<path d="M858.90,66.90 L853.25,60.43 A7.5,7.5 0 1 1 864.55,60.43 Z" fill="#131c30"/>
<text x="858.90" y="59.92" text-anchor="middle" font-family="Liberation Sans, sans-serif" font-size="10.4" font-weight="bold" fill="#fff" textLength="10.0" lengthAdjust="spacingAndGlyphs">20</text>
<path d="M825.20,55.70 L819.55,49.23 A7.5,7.5 0 1 1 830.85,49.23 Z" fill="#131c30"/>
<text x="825.20" y="48.72" text-anchor="middle" font-family="Liberation Sans, sans-serif" font-size="10.4" font-weight="bold" fill="#fff" textLength="10.0" lengthAdjust="spacingAndGlyphs">21</text>
<path d="M744.20,55.60 L738.55,49.13 A7.5,7.5 0 1 1 749.85,49.13 Z" fill="#131c30"/>
<text x="744.20" y="48.62" text-anchor="middle" font-family="Liberation Sans, sans-serif" font-size="10.4" font-weight="bold" fill="#fff" textLength="10.0" lengthAdjust="spacingAndGlyphs">22</text>
<path d="M940.20,84.70 L934.55,78.23 A7.5,7.5 0 1 1 945.85,78.23 Z" fill="#131c30"/>
<text x="940.20" y="77.72" text-anchor="middle" font-family="Liberation Sans, sans-serif" font-size="10.4" font-weight="bold" fill="#fff" textLength="10.0" lengthAdjust="spacingAndGlyphs">23</text>
<path d="M961.20,58.20 L955.55,51.73 A7.5,7.5 0 1 1 966.85,51.73 Z" fill="#131c30"/>
<text x="961.20" y="51.22" text-anchor="middle" font-family="Liberation Sans, sans-serif" font-size="10.4" font-weight="bold" fill="#fff" textLength="10.0" lengthAdjust="spacingAndGlyphs">24</text>
<path d="M648.30,45.90 L642.65,39.43 A7.5,7.5 0 1 1 653.95,39.43 Z" fill="#131c30"/>
<text x="648.30" y="38.92" text-anchor="middle" font-family="Liberation Sans, sans-serif" font-size="10.4" font-weight="bold" fill="#fff" textLength="10.0" lengthAdjust="spacingAndGlyphs">25</text>
<circle cx="348.1" cy="175" r="7.6" fill="#131c30"/>
<text x="348.1" y="178.7" text-anchor="middle" font-family="Liberation Sans, sans-serif" font-size="10.4" font-weight="bold" fill="#fff">7</text>
<path d="M445.00,245.80 L439.02,238.86 A7.9,7.9 0 1 1 450.98,238.86 Z" fill="#fff" stroke="#4a5263" stroke-width="0.9" stroke-linejoin="round"/>
<text x="445.00" y="238.04" text-anchor="middle" font-family="Liberation Sans, sans-serif" font-size="10.2" font-weight="bold" fill="#2a3347">P</text>
<path d="M266.50,350.00 L260.52,343.06 A7.9,7.9 0 1 1 272.48,343.06 Z" fill="#fff" stroke="#4a5263" stroke-width="0.9" stroke-linejoin="round"/>
<text x="266.50" y="342.23" text-anchor="middle" font-family="Liberation Sans, sans-serif" font-size="10.2" font-weight="bold" fill="#2a3347">P</text>
<path d="M71.00,423.00 L65.02,416.06 A7.9,7.9 0 1 1 76.98,416.06 Z" fill="#fff" stroke="#4a5263" stroke-width="0.9" stroke-linejoin="round"/>
<text x="71.00" y="415.23" text-anchor="middle" font-family="Liberation Sans, sans-serif" font-size="10.2" font-weight="bold" fill="#2a3347">P</text>
<path d="M276.00,476.00 L270.02,469.06 A7.9,7.9 0 1 1 281.98,469.06 Z" fill="#fff" stroke="#4a5263" stroke-width="0.9" stroke-linejoin="round"/>
<text x="276.00" y="468.23" text-anchor="middle" font-family="Liberation Sans, sans-serif" font-size="10.2" font-weight="bold" fill="#2a3347">P</text>
<path d="M652.00,265.50 L646.02,258.56 A7.9,7.9 0 1 1 657.98,258.56 Z" fill="#fff" stroke="#4a5263" stroke-width="0.9" stroke-linejoin="round"/>
<text x="652.00" y="257.74" text-anchor="middle" font-family="Liberation Sans, sans-serif" font-size="10.2" font-weight="bold" fill="#2a3347">P</text>
<path d="M864.00,166.90 L858.07,159.97 A7.8,7.8 0 1 1 869.93,159.97 Z" fill="#fff" stroke="#d9b073" stroke-width="0.9" stroke-linejoin="round"/>
<text x="864.00" y="158.64" text-anchor="middle" font-family="Liberation Sans, sans-serif" font-size="8.8" font-weight="normal" fill="#c4943a">VP</text>
<text x="46.9" y="110" font-family="Liberation Serif, serif" font-size="75.5" font-weight="bold" fill="#131c30" textLength="105.0" lengthAdjust="spacingAndGlyphs" stroke="#131c30" stroke-width="0.9">Joy</text>
<text x="165.3" y="110" font-family="Liberation Serif, serif" font-size="75.5" font-weight="bold" fill="#131c30" textLength="167.0" lengthAdjust="spacingAndGlyphs" stroke="#131c30" stroke-width="0.9">Lives</text>
<text x="346" y="110" font-family="Liberation Serif, serif" font-size="75.5" font-weight="bold" fill="#131c30" textLength="159.5" lengthAdjust="spacingAndGlyphs" stroke="#131c30" stroke-width="0.9">Here</text>
<rect x="843" y="342" width="27.6" height="27.3" fill="#b7dcbf"/>
<rect x="843" y="376" width="27.6" height="27.3" fill="#c4943a"/>
<rect x="843" y="410" width="27.6" height="27.3" fill="#157a42"/>
<rect x="843.5" y="443.5" width="27" height="27" fill="#fff" stroke="#131c30" stroke-width="0.8"/>
<rect x="843.5" y="477" width="27" height="27.5" fill="#fff" stroke="#e2bd84" stroke-width="0.9"/>
<text x="856.7" y="462.2" font-family="Liberation Sans, sans-serif" font-size="14" font-weight="normal" fill="#131c30" text-anchor="middle">P</text>
<text x="857" y="496" font-family="Liberation Sans, sans-serif" font-size="14" font-weight="normal" fill="#c4943a" text-anchor="middle">VP</text>
<text x="879.1" y="360" font-family="Liberation Sans, sans-serif" font-size="14.4" font-weight="normal" fill="#131c30" textLength="127.1" lengthAdjust="spacingAndGlyphs" stroke="#131c30" stroke-width="0.3">RESIDENCE HALLS</text>
<rect x="864" y="364.3" width="150.5" height="1" fill="#3a4257"/>
<text x="879.1" y="393.6" font-family="Liberation Sans, sans-serif" font-size="14.4" font-weight="normal" fill="#131c30" textLength="102.6" lengthAdjust="spacingAndGlyphs" stroke="#131c30" stroke-width="0.3">MAIN CAMPUS</text>
<rect x="864" y="398.0" width="150.5" height="1" fill="#3a4257"/>
<text x="879.1" y="427.6" font-family="Liberation Sans, sans-serif" font-size="14.4" font-weight="normal" fill="#131c30" textLength="76.6" lengthAdjust="spacingAndGlyphs" stroke="#131c30" stroke-width="0.3">ATHLETICS</text>
<rect x="864" y="431.9" width="150.5" height="1" fill="#3a4257"/>
<text x="879.1" y="461.2" font-family="Liberation Sans, sans-serif" font-size="14.4" font-weight="normal" fill="#131c30" textLength="62.1" lengthAdjust="spacingAndGlyphs" stroke="#131c30" stroke-width="0.3">PARKING</text>
<rect x="864" y="465.1" width="150.5" height="1" fill="#3a4257"/>
<text x="879.1" y="494.9" font-family="Liberation Sans, sans-serif" font-size="14.4" font-weight="normal" fill="#131c30" textLength="122.1" lengthAdjust="spacingAndGlyphs" stroke="#131c30" stroke-width="0.3">VISITOR PARKING</text>
<rect x="864" y="498.8" width="150.5" height="1" fill="#3a4257"/>
<path d="M1040.3,278 V297.5" stroke="#e9cfa6" stroke-width="1" fill="none"/>
<rect x="939.5" y="297.5" width="105" height="16" fill="#fff" stroke="#ecd5b0" stroke-width="1"/>
<text x="944.2" y="308.4" font-family="Liberation Sans, sans-serif" font-size="7.7" font-weight="bold" fill="#131c30" textLength="96.0" lengthAdjust="spacingAndGlyphs">Ave Maria Catholic Church</text>
<text x="49.2" y="655.9" font-family="Liberation Sans, sans-serif" font-size="21.2" font-weight="bold" fill="#b7dcbf" textLength="206.5" lengthAdjust="spacingAndGlyphs">RESIDENCE HALLS</text>
<text x="299.5" y="655.9" font-family="Liberation Sans, sans-serif" font-size="21.2" font-weight="bold" fill="#b7dcbf" textLength="147.5" lengthAdjust="spacingAndGlyphs">RECREATION</text>
<text x="550.4" y="548.8" font-family="Liberation Sans, sans-serif" font-size="21.2" font-weight="bold" fill="#c4943a" textLength="168.0" lengthAdjust="spacingAndGlyphs">MAIN CAMPUS</text>
<text x="842.3" y="549" font-family="Liberation Sans, sans-serif" font-size="21.2" font-weight="bold" fill="#157a42" textLength="124.5" lengthAdjust="spacingAndGlyphs">ATHLETICS</text>
<text x="49.5" y="683.3" font-family="Liberation Sans, sans-serif" font-size="13" font-weight="bold" fill="#131c30" textLength="8.6" lengthAdjust="spacingAndGlyphs">1.</text>
<text x="74.3" y="683.3" font-family="Liberation Sans, sans-serif" font-size="13" font-weight="bold" fill="#131c30" textLength="114.7" lengthAdjust="spacingAndGlyphs">St. John Paul II Hall</text>
<text x="49.5" y="701" font-family="Liberation Sans, sans-serif" font-size="13" font-weight="bold" fill="#131c30">2.</text>
<text x="74.3" y="701" font-family="Liberation Sans, sans-serif" font-size="13" font-weight="bold" fill="#131c30" textLength="154.1" lengthAdjust="spacingAndGlyphs">St. Teresa of Calcutta Hall</text>
<text x="74.3" y="716" font-family="Liberation Sans, sans-serif" font-size="13" font-weight="normal" fill="#131c30" textLength="87.1" lengthAdjust="spacingAndGlyphs" stroke="#131c30" stroke-width="0.25">Campus Nurse</text>
<text x="49.5" y="733.5" font-family="Liberation Sans, sans-serif" font-size="13" font-weight="bold" fill="#131c30">3.</text>
<text x="74.3" y="733.5" font-family="Liberation Sans, sans-serif" font-size="13" font-weight="bold" fill="#131c30" textLength="88.3" lengthAdjust="spacingAndGlyphs">St. Joseph Hall</text>
<text x="49.5" y="751.5" font-family="Liberation Sans, sans-serif" font-size="13" font-weight="bold" fill="#131c30">4.</text>
<text x="74.3" y="751.5" font-family="Liberation Sans, sans-serif" font-size="13" font-weight="bold" fill="#131c30" textLength="128.8" lengthAdjust="spacingAndGlyphs">St. Francis Xavier Hall</text>
<text x="74.3" y="766.5" font-family="Liberation Sans, sans-serif" font-size="13" font-weight="normal" fill="#131c30" textLength="183.0" lengthAdjust="spacingAndGlyphs" stroke="#131c30" stroke-width="0.25">Our Lady of Guadalupe Chapel</text>
<text x="49.5" y="784" font-family="Liberation Sans, sans-serif" font-size="13" font-weight="bold" fill="#131c30">5.</text>
<text x="74.3" y="784" font-family="Liberation Sans, sans-serif" font-size="13" font-weight="bold" fill="#131c30" textLength="127.3" lengthAdjust="spacingAndGlyphs">St. Maria Goretti Hall</text>
<text x="49.5" y="801.5" font-family="Liberation Sans, sans-serif" font-size="13" font-weight="bold" fill="#131c30">6.</text>
<text x="74.3" y="801.5" font-family="Liberation Sans, sans-serif" font-size="13" font-weight="bold" fill="#131c30" textLength="103.2" lengthAdjust="spacingAndGlyphs">St. Sebastian Hall</text>
<text x="300.3" y="683.3" font-family="Liberation Sans, sans-serif" font-size="13" font-weight="bold" fill="#131c30" textLength="8.2" lengthAdjust="spacingAndGlyphs">7.</text>
<text x="325" y="683.3" font-family="Liberation Sans, sans-serif" font-size="13" font-weight="bold" fill="#131c30" textLength="180.8" lengthAdjust="spacingAndGlyphs">Our Lady of Guadalupe Statue</text>
<text x="300.3" y="701" font-family="Liberation Sans, sans-serif" font-size="13" font-weight="bold" fill="#131c30">8.</text>
<text x="325" y="701" font-family="Liberation Sans, sans-serif" font-size="13" font-weight="bold" fill="#131c30" textLength="177.1" lengthAdjust="spacingAndGlyphs">St. Adjutor Pool &amp; Pool House</text>
<text x="300.3" y="718.6" font-family="Liberation Sans, sans-serif" font-size="13" font-weight="bold" fill="#131c30">9.</text>
<text x="325" y="718.6" font-family="Liberation Sans, sans-serif" font-size="13" font-weight="bold" fill="#131c30" textLength="76.4" lengthAdjust="spacingAndGlyphs">Student Park</text>
<text x="300.3" y="736.2" font-family="Liberation Sans, sans-serif" font-size="13" font-weight="bold" fill="#131c30" textLength="16.2" lengthAdjust="spacingAndGlyphs">10.</text>
<text x="325" y="736.2" font-family="Liberation Sans, sans-serif" font-size="13" font-weight="bold" fill="#131c30" textLength="64.9" lengthAdjust="spacingAndGlyphs">Judi’s Gym</text>
<text x="300.3" y="753.6" font-family="Liberation Sans, sans-serif" font-size="13" font-weight="bold" fill="#131c30" textLength="13.2" lengthAdjust="spacingAndGlyphs">11.</text>
<text x="325" y="753.6" font-family="Liberation Sans, sans-serif" font-size="13" font-weight="bold" fill="#131c30" textLength="68.7" lengthAdjust="spacingAndGlyphs">Rosary Wall</text>
<text x="325" y="769" font-family="Liberation Sans, sans-serif" font-size="13" font-weight="normal" fill="#131c30" textLength="50.6" lengthAdjust="spacingAndGlyphs" stroke="#131c30" stroke-width="0.25">Gazebos</text>
<text x="550.8" y="576" font-family="Liberation Sans, sans-serif" font-size="13" font-weight="bold" fill="#131c30" textLength="15.4" lengthAdjust="spacingAndGlyphs">12.</text>
<text x="575.6" y="576" font-family="Liberation Sans, sans-serif" font-size="13" font-weight="bold" fill="#131c30" textLength="171.4" lengthAdjust="spacingAndGlyphs">Joe and Mary Beagle Central</text>
<text x="575.6" y="591" font-family="Liberation Sans, sans-serif" font-size="13" font-weight="bold" fill="#131c30" textLength="69.6" lengthAdjust="spacingAndGlyphs">Utility Plant</text>
<text x="550.8" y="609" font-family="Liberation Sans, sans-serif" font-size="13" font-weight="bold" fill="#131c30" textLength="15.4" lengthAdjust="spacingAndGlyphs">13.</text>
<text x="575.6" y="609" font-family="Liberation Sans, sans-serif" font-size="13" font-weight="bold" fill="#131c30" textLength="207.2" lengthAdjust="spacingAndGlyphs">Paul M. Henkels Academic Building</text>
<text x="575.6" y="623.8" font-family="Liberation Sans, sans-serif" font-size="13" font-weight="normal" fill="#131c30" textLength="192.2" lengthAdjust="spacingAndGlyphs" stroke="#131c30" stroke-width="0.25">William C. Demetree Auditorium</text>
<text x="575.6" y="638.6" font-family="Liberation Sans, sans-serif" font-size="13" font-weight="normal" fill="#131c30" textLength="79.8" lengthAdjust="spacingAndGlyphs" stroke="#131c30" stroke-width="0.25">(Lecture Hall)</text>
<text x="550.8" y="656.5" font-family="Liberation Sans, sans-serif" font-size="13" font-weight="bold" fill="#131c30" textLength="15.9" lengthAdjust="spacingAndGlyphs">14.</text>
<text x="575.6" y="656.5" font-family="Liberation Sans, sans-serif" font-size="13" font-weight="bold" fill="#131c30" textLength="98.9" lengthAdjust="spacingAndGlyphs">Canizaro Library</text>
<text x="575.6" y="671.5" font-family="Liberation Sans, sans-serif" font-size="13" font-weight="normal" fill="#131c30" textLength="200.2" lengthAdjust="spacingAndGlyphs" stroke="#131c30" stroke-width="0.25">Martha J. Burke Adoration Chapel</text>
<text x="575.6" y="689" font-family="Liberation Sans, sans-serif" font-size="13" font-weight="normal" fill="#131c30" textLength="93.1" lengthAdjust="spacingAndGlyphs" stroke="#131c30" stroke-width="0.25">The Daily Grind</text>
<text x="550.8" y="706.6" font-family="Liberation Sans, sans-serif" font-size="13" font-weight="bold" fill="#131c30" textLength="15.4" lengthAdjust="spacingAndGlyphs">15.</text>
<text x="575.6" y="706.6" font-family="Liberation Sans, sans-serif" font-size="13" font-weight="bold" fill="#131c30" textLength="200.2" lengthAdjust="spacingAndGlyphs">Thomas and Selby Prince Building</text>
<text x="575.6" y="722" font-family="Liberation Sans, sans-serif" font-size="13" font-weight="normal" fill="#131c30" textLength="198.5" lengthAdjust="spacingAndGlyphs" stroke="#131c30" stroke-width="0.25">Donahue Family Blackbox Theater</text>
<text x="575.6" y="737" font-family="Liberation Sans, sans-serif" font-size="13" font-weight="normal" fill="#131c30" textLength="138.2" lengthAdjust="spacingAndGlyphs" stroke="#131c30" stroke-width="0.25">Mother Teresa Museum</text>
<text x="550.8" y="754.6" font-family="Liberation Sans, sans-serif" font-size="13" font-weight="bold" fill="#131c30" textLength="15.9" lengthAdjust="spacingAndGlyphs">16.</text>
<text x="575.6" y="754.6" font-family="Liberation Sans, sans-serif" font-size="13" font-weight="bold" fill="#131c30" textLength="162.6" lengthAdjust="spacingAndGlyphs">Bob Thomas Student Union</text>
<text x="575.6" y="769.6" font-family="Liberation Sans, sans-serif" font-size="13" font-weight="normal" fill="#131c30" textLength="66.5" lengthAdjust="spacingAndGlyphs" stroke="#131c30" stroke-width="0.25">Ark Chapel</text>
<text x="575.6" y="784.6" font-family="Liberation Sans, sans-serif" font-size="13" font-weight="normal" fill="#131c30" textLength="179.1" lengthAdjust="spacingAndGlyphs" stroke="#131c30" stroke-width="0.25">St. Francis of Assisi Dining Hall</text>
<text x="575.6" y="799.6" font-family="Liberation Sans, sans-serif" font-size="13" font-weight="normal" fill="#131c30" textLength="104.6" lengthAdjust="spacingAndGlyphs" stroke="#131c30" stroke-width="0.25">Tepe’s Tepee Café</text>
<text x="842.8" y="576" font-family="Liberation Sans, sans-serif" font-size="13" font-weight="bold" fill="#131c30" textLength="13.8" lengthAdjust="spacingAndGlyphs">17.</text>
<text x="867.4" y="576" font-family="Liberation Sans, sans-serif" font-size="13" font-weight="bold" fill="#131c30" textLength="154.1" lengthAdjust="spacingAndGlyphs">Tom Golisano Field House</text>
<text x="842.8" y="594" font-family="Liberation Sans, sans-serif" font-size="13" font-weight="bold" fill="#131c30" textLength="15.7" lengthAdjust="spacingAndGlyphs">18.</text>
<text x="867.4" y="594" font-family="Liberation Sans, sans-serif" font-size="13" font-weight="bold" fill="#131c30" textLength="83.3" lengthAdjust="spacingAndGlyphs">Tennis Facility</text>
<text x="842.8" y="611.5" font-family="Liberation Sans, sans-serif" font-size="13" font-weight="bold" fill="#131c30" textLength="14.3" lengthAdjust="spacingAndGlyphs">19.</text>
<text x="867.4" y="611.5" font-family="Liberation Sans, sans-serif" font-size="13" font-weight="bold" fill="#131c30" textLength="115.3" lengthAdjust="spacingAndGlyphs">Suppa Malec Beach</text>
<text x="867.4" y="626.5" font-family="Liberation Sans, sans-serif" font-size="13" font-weight="bold" fill="#131c30" textLength="113.3" lengthAdjust="spacingAndGlyphs">Volleyball Complex</text>
<text x="842.8" y="641.6" font-family="Liberation Sans, sans-serif" font-size="13" font-weight="bold" fill="#131c30">20.</text>
<text x="867.4" y="641.6" font-family="Liberation Sans, sans-serif" font-size="13" font-weight="bold" fill="#131c30" textLength="158.6" lengthAdjust="spacingAndGlyphs">Quonset Hut Locker Room</text>
<text x="842.8" y="659.2" font-family="Liberation Sans, sans-serif" font-size="13" font-weight="bold" fill="#131c30" textLength="16.5" lengthAdjust="spacingAndGlyphs">21.</text>
<text x="867.4" y="659.2" font-family="Liberation Sans, sans-serif" font-size="13" font-weight="bold" fill="#131c30" textLength="76.3" lengthAdjust="spacingAndGlyphs">Gyrene Field</text>
<text x="842.8" y="677" font-family="Liberation Sans, sans-serif" font-size="13" font-weight="bold" fill="#131c30">22.</text>
<text x="867.4" y="677" font-family="Liberation Sans, sans-serif" font-size="13" font-weight="bold" fill="#131c30" textLength="153.6" lengthAdjust="spacingAndGlyphs">Bowie’s Ballpark (Baseball)</text>
<text x="842.8" y="694.6" font-family="Liberation Sans, sans-serif" font-size="13" font-weight="bold" fill="#131c30">23.</text>
<text x="867.4" y="694.6" font-family="Liberation Sans, sans-serif" font-size="13" font-weight="bold" fill="#131c30" textLength="68.0" lengthAdjust="spacingAndGlyphs">Rugby Field</text>
<text x="842.8" y="712.3" font-family="Liberation Sans, sans-serif" font-size="13" font-weight="bold" fill="#131c30">24.</text>
<text x="867.4" y="712.3" font-family="Liberation Sans, sans-serif" font-size="13" font-weight="bold" fill="#131c30" textLength="76.3" lengthAdjust="spacingAndGlyphs">Softball Field</text>
<text x="842.8" y="730.3" font-family="Liberation Sans, sans-serif" font-size="13" font-weight="bold" fill="#131c30">25.</text>
<text x="867.4" y="730.3" font-family="Liberation Sans, sans-serif" font-size="13" font-weight="bold" fill="#131c30" textLength="110.7" lengthAdjust="spacingAndGlyphs">Judy Fyke Practice</text>
<text x="867.4" y="745.3" font-family="Liberation Sans, sans-serif" font-size="13" font-weight="bold" fill="#131c30" textLength="82.8" lengthAdjust="spacingAndGlyphs">Golf Complex</text>
<rect x="0" y="0" width="1.2" height="833" fill="#555555"/>
<rect x="2.2" y="831.4" width="1078" height="1.6" fill="#f0f0f0"/>
</svg>
</body></html>
